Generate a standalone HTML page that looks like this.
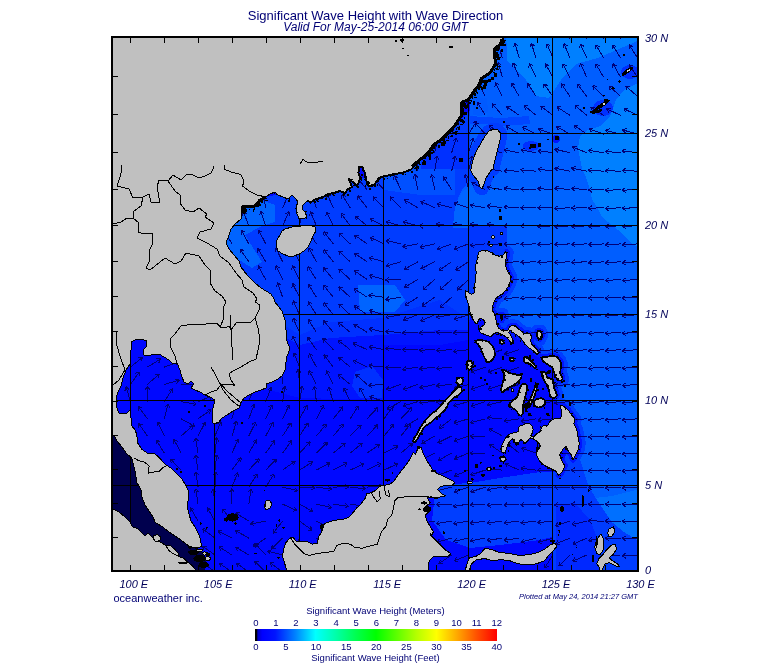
<!DOCTYPE html>
<html><head><meta charset="utf-8"><title>Significant Wave Height with Wave Direction</title>
<style>html,body{margin:0;padding:0;background:#fff}body{width:775px;height:665px;position:relative;overflow:hidden}</style></head>
<body>
<svg width="775" height="665" viewBox="0 0 775 665" style="position:absolute;left:0;top:0">
<defs><clipPath id="mc"><rect x="113" y="38" width="524" height="532"/></clipPath>
<clipPath id="east"><polygon points="470,36 640,36 640,572 560,572 552,540 552,480 560,470 572,440 568,410 553,398 548,385 556,375 548,362 535,355 520,340 500,328 488,320 492,300 500,270 505,250 500,228 453,228 455,205 462,190 470,180"/></clipPath>
<linearGradient id="cb" x1="0" x2="1" y1="0" y2="0">
<stop offset="0.0000" stop-color="#000000"/>
<stop offset="0.0060" stop-color="#000000"/>
<stop offset="0.0120" stop-color="#0000c8"/>
<stop offset="0.0300" stop-color="#0000ff"/>
<stop offset="0.0833" stop-color="#0014ff"/>
<stop offset="0.1667" stop-color="#0082ff"/>
<stop offset="0.2500" stop-color="#00ffff"/>
<stop offset="0.3333" stop-color="#00ffaa"/>
<stop offset="0.4167" stop-color="#00ff50"/>
<stop offset="0.5000" stop-color="#00ff00"/>
<stop offset="0.5833" stop-color="#5aff00"/>
<stop offset="0.6667" stop-color="#b4ff00"/>
<stop offset="0.7500" stop-color="#ffff00"/>
<stop offset="0.8333" stop-color="#ffaa00"/>
<stop offset="0.9167" stop-color="#ff5000"/>
<stop offset="1.0000" stop-color="#ff0000"/>
</linearGradient></defs>
<rect x="0" y="0" width="775" height="665" fill="#fff"/>
<g clip-path="url(#mc)" shape-rendering="crispEdges">
<rect x="113" y="38" width="524" height="532" fill="#0008ff"/>
<polygon points="262.0,388.0 300.0,398.0 383.0,400.0 383.0,345.0 440.0,345.0 468.0,340.0 470.0,316.0 440.0,300.0 383.0,318.0 330.0,322.0 300.0,335.0 272.0,318.0 282.0,345.0 285.0,365.0" fill="#0014ff" />
<polygon points="272.0,316.0 300.0,330.0 330.0,320.0 383.0,316.0 440.0,300.0 470.0,316.0 468.0,330.0 440.0,330.0 383.0,335.0 330.0,338.0 300.0,345.0 280.0,335.0" fill="#0030ff" />
<polygon points="355.0,372.0 372.0,366.0 383.0,380.0 382.0,398.0 360.0,398.0 352.0,386.0" fill="#0030ff" />
<polygon points="226.0,243.0 232.0,228.0 243.0,206.0 260.0,198.0 300.0,190.0 350.0,180.0 400.0,172.0 421.0,160.0 440.0,140.0 470.0,110.0 505.0,38.0 470.0,320.0 440.0,300.0 383.0,318.0 330.0,322.0 300.0,335.0 272.0,318.0 255.0,285.0 235.0,257.0" fill="#003cff" />
<polygon points="470.0,36.0 640.0,36.0 640.0,572.0 560.0,572.0 552.0,540.0 552.0,480.0 560.0,470.0 572.0,440.0 568.0,410.0 553.0,398.0 548.0,385.0 556.0,375.0 548.0,362.0 535.0,355.0 520.0,340.0 500.0,328.0 488.0,320.0 492.0,300.0 500.0,270.0 505.0,250.0 500.0,228.0 453.0,228.0 455.0,205.0 462.0,190.0 470.0,180.0" fill="#005eff" />
<polygon points="436.0,485.0 470.0,483.0 500.0,478.0 540.0,472.0 560.0,472.0 560.0,535.0 540.0,540.0 500.0,545.0 470.0,548.0 446.0,540.0 432.0,520.0" fill="#003eff" />
<polygon points="473.0,100.0 487.0,100.0 487.0,118.0 473.0,118.0" fill="#0064ff" />
<polygon points="226.0,243.0 232.0,228.0 243.0,206.0 262.0,200.0 275.0,205.0 275.0,222.0 262.0,226.0 245.0,235.0 262.0,262.0 252.0,268.0 236.0,258.0" fill="#0064ff" />
<polygon points="358.0,285.0 395.0,285.0 405.0,300.0 395.0,312.0 360.0,312.0" fill="#0064ff" />
<polygon points="384.0,177.0 421.0,160.0 440.0,140.0 455.0,150.0 455.0,195.0 421.0,195.0 384.0,190.0" fill="#0050ff" />
<polygon points="469.0,226.0 507.0,226.0 507.4,253.0 504.0,257.0 481.0,251.0 477.0,257.0 475.0,273.0 473.4,289.0 469.0,293.0" fill="#0036ff" />
<polygon points="473.0,98.0 487.0,98.0 488.0,112.0 481.0,116.0 473.4,115.0" fill="#005aff" />
<polygon points="469.0,116.0 501.0,118.0 529.0,116.0 530.0,124.0 501.0,126.0 485.0,124.0 469.0,124.0" fill="#0046ff" />
<polygon points="421.0,159.0 433.0,148.0 449.0,134.0 469.0,134.0 469.0,169.0 421.0,169.0" fill="#0030ff" />
<polygon points="453.0,226.0 455.0,207.0 462.0,192.0 470.0,186.0 640.0,190.0 640.0,226.0" fill="#0064ff" />
<polygon points="506.0,36.0 507.0,50.0 507.0,60.0 516.0,70.0 526.0,80.0 536.0,96.0 549.0,98.0 561.0,80.0 576.0,64.0 598.0,58.0 626.0,46.0 640.0,40.0 640.0,36.0" fill="#0080ff" />
<polygon points="640.0,82.0 624.0,90.0 616.0,100.0 610.0,116.0 600.0,126.0 588.0,130.0 580.0,136.0 578.0,148.0 582.0,169.0 585.0,175.0 590.0,189.0 592.0,199.0 598.0,209.0 602.0,217.0 614.0,227.0 622.0,233.0 629.0,241.0 640.0,249.0" fill="#0080ff" />
<polygon points="640.0,489.0 612.0,496.0 595.0,498.0 599.0,503.0 611.2,521.5 623.6,531.8 640.0,542.0" fill="#0070ff" />
<polygon points="552.0,475.0 572.0,462.0 578.0,453.0 588.6,486.5 598.9,503.0 611.2,521.5 623.6,531.8 640.0,542.0 640.0,572.0 552.0,572.0" fill="#003cff" />
<polygon points="556.0,505.0 575.0,503.0 590.0,520.0 600.0,545.0 600.0,572.0 556.0,572.0" fill="#0028ff" />
<polygon points="105.0,430.0 125.4,435.0 133.7,451.5 146.0,461.8 159.4,480.3 164.6,496.8 172.8,519.5 185.2,538.0 195.5,547.3 203.0,552.0 206.0,560.0 204.0,575.0 105.0,575.0" fill="#00004e" />
<ellipse cx="630" cy="72" rx="9" ry="7" fill="#0030ff"/>
<ellipse cx="603" cy="108" rx="10" ry="8" fill="#0030ff"/>
<ellipse cx="531" cy="146" rx="8" ry="5" fill="#0030ff"/>
<ellipse cx="556" cy="139" rx="4" ry="4" fill="#0018ff"/>
<g clip-path="url(#east)" fill="none" stroke-linejoin="round">
<polygon points="478.3,252.5 482.0,250.6 487.0,250.6 490.8,252.5 495.2,255.0 499.5,256.3 503.3,255.0 505.2,251.9 507.1,252.5 506.4,257.5 505.2,262.5 506.4,268.8 508.9,273.2 510.8,276.9 510.2,281.3 508.3,286.3 505.8,290.1 503.3,293.2 499.5,295.7 495.8,298.2 493.9,302.6 492.7,306.3 492.0,310.1 494.5,313.8 495.8,318.2 496.4,323.2 498.3,327.6 499.5,328.8 503.3,331.3 505.8,330.6 508.3,330.0 509.6,326.9 512.1,325.6 515.8,326.3 518.3,328.8 521.5,331.3 524.0,333.8 526.5,333.1 529.6,333.8 532.1,336.9 530.2,340.0 531.5,343.8 534.0,346.9 537.1,349.4 538.3,353.2 537.1,355.0 534.6,351.9 531.5,349.4 528.3,347.5 525.2,344.4 522.7,340.6 519.6,336.9 515.8,334.4 512.1,331.9 510.2,330.0 508.9,332.5 510.8,335.6 512.7,339.4 513.3,343.1 511.4,343.8 509.6,340.6 506.4,337.5 503.3,335.0 499.5,333.1 496.4,332.5 493.9,333.8 490.8,336.3 487.0,335.6 483.3,333.8 480.1,332.5 478.3,328.8 478.9,325.0 478.9,330.1 480.8,327.0 483.9,325.1 485.2,322.0 483.3,319.5 480.1,318.2 478.3,320.1 477.6,323.8 475.8,323.8 473.3,319.5 470.8,315.1 469.5,310.1 468.9,305.1 467.0,300.1 465.8,295.7 465.1,290.7 467.6,291.9 471.4,294.4 474.5,292.6 473.9,287.5 475.1,282.5 475.1,277.5 476.4,272.5 475.1,267.5 476.4,262.5 477.6,257.5" stroke="#003cff" stroke-width="13"/>
<polygon points="537.5,331.3 540.7,331.3 541.9,335.0 540.1,338.8 537.5,338.1 536.9,334.4" stroke="#003cff" stroke-width="13"/>
<polygon points="541.3,357.5 546.3,356.9 552.6,355.7 556.9,356.9 559.5,360.0 561.3,363.8 560.7,368.8 560.1,373.2 562.0,376.9 562.6,379.4 560.1,380.7 556.9,379.4 555.1,375.7 553.8,371.3 552.6,367.5 549.4,365.7 545.7,363.2 542.6,360.7" stroke="#003cff" stroke-width="13"/>
<polygon points="541.9,373.2 544.4,371.9 546.3,374.4 546.9,377.6 550.1,378.8 552.6,378.2 553.2,382.6 553.8,387.6 555.7,391.3 556.9,395.1 555.1,397.6 552.6,398.2 550.1,396.3 549.4,392.0 548.2,386.9 545.7,383.2 543.8,379.4 541.9,376.3" stroke="#003cff" stroke-width="13"/>
<polygon points="501.9,451.9 500.7,448.8 501.9,445.1 503.8,441.3 505.7,437.6 508.2,435.1 511.9,433.2 515.7,432.5 518.8,431.3 518.2,428.2 520.1,425.7 523.2,425.0 525.7,423.8 529.4,423.8 531.9,425.7 533.2,429.4 532.6,432.5 530.7,435.7 533.8,436.9 536.9,433.8 540.7,431.3 541.3,427.5 543.8,425.0 547.6,425.7 549.5,421.9 552.6,419.4 556.3,418.2 560.1,418.8 562.0,415.0 561.4,410.6 560.1,406.3 562.0,405.0 565.1,407.5 568.2,410.0 570.7,413.8 573.2,416.9 575.1,420.0 573.9,423.8 575.7,427.5 577.0,431.3 579.3,443.2 578.3,449.4 575.2,455.6 573.1,459.7 571.1,454.6 568.0,450.5 565.9,446.3 562.8,449.4 559.7,454.6 561.8,460.8 564.9,465.9 561.8,472.1 558.7,475.2 555.6,471.1 551.5,469.0 545.3,465.9 540.2,461.8 537.1,456.6 536.1,450.5 538.1,443.2 536.3,453.8 538.2,449.4 540.7,446.3 538.8,443.2 536.3,440.7 533.2,438.8 530.1,437.6 528.2,440.1 525.7,443.2 523.2,441.3 520.7,439.4 518.2,443.2 516.3,445.1 514.4,441.3 512.5,438.8 510.0,440.7 508.2,443.8 506.9,447.6 505.7,451.3 503.8,453.2" stroke="#003cff" stroke-width="13"/>
<polygon points="500.5,314.5 502.3,314.5 502.8,317.6 501.8,320.1 500.5,318.2" stroke="#003cff" stroke-width="13"/>
<polygon points="494.0,129.0 498.0,130.0 501.0,134.0 500.0,140.0 498.0,148.0 496.0,156.0 494.0,164.0 493.0,169.0 492.0,169.0 490.0,172.0 486.0,178.0 484.0,184.0 482.0,189.0 480.0,187.0 478.0,181.0 473.0,175.0 470.0,169.0 471.0,169.0 473.4,158.0 477.0,150.0 481.0,143.0 485.0,136.0 489.0,131.0" stroke="#003cff" stroke-width="13"/>
<polygon points="478.3,252.5 482.0,250.6 487.0,250.6 490.8,252.5 495.2,255.0 499.5,256.3 503.3,255.0 505.2,251.9 507.1,252.5 506.4,257.5 505.2,262.5 506.4,268.8 508.9,273.2 510.8,276.9 510.2,281.3 508.3,286.3 505.8,290.1 503.3,293.2 499.5,295.7 495.8,298.2 493.9,302.6 492.7,306.3 492.0,310.1 494.5,313.8 495.8,318.2 496.4,323.2 498.3,327.6 499.5,328.8 503.3,331.3 505.8,330.6 508.3,330.0 509.6,326.9 512.1,325.6 515.8,326.3 518.3,328.8 521.5,331.3 524.0,333.8 526.5,333.1 529.6,333.8 532.1,336.9 530.2,340.0 531.5,343.8 534.0,346.9 537.1,349.4 538.3,353.2 537.1,355.0 534.6,351.9 531.5,349.4 528.3,347.5 525.2,344.4 522.7,340.6 519.6,336.9 515.8,334.4 512.1,331.9 510.2,330.0 508.9,332.5 510.8,335.6 512.7,339.4 513.3,343.1 511.4,343.8 509.6,340.6 506.4,337.5 503.3,335.0 499.5,333.1 496.4,332.5 493.9,333.8 490.8,336.3 487.0,335.6 483.3,333.8 480.1,332.5 478.3,328.8 478.9,325.0 478.9,330.1 480.8,327.0 483.9,325.1 485.2,322.0 483.3,319.5 480.1,318.2 478.3,320.1 477.6,323.8 475.8,323.8 473.3,319.5 470.8,315.1 469.5,310.1 468.9,305.1 467.0,300.1 465.8,295.7 465.1,290.7 467.6,291.9 471.4,294.4 474.5,292.6 473.9,287.5 475.1,282.5 475.1,277.5 476.4,272.5 475.1,267.5 476.4,262.5 477.6,257.5" stroke="#0014ff" stroke-width="6"/>
<polygon points="537.5,331.3 540.7,331.3 541.9,335.0 540.1,338.8 537.5,338.1 536.9,334.4" stroke="#0014ff" stroke-width="6"/>
<polygon points="541.3,357.5 546.3,356.9 552.6,355.7 556.9,356.9 559.5,360.0 561.3,363.8 560.7,368.8 560.1,373.2 562.0,376.9 562.6,379.4 560.1,380.7 556.9,379.4 555.1,375.7 553.8,371.3 552.6,367.5 549.4,365.7 545.7,363.2 542.6,360.7" stroke="#0014ff" stroke-width="6"/>
<polygon points="541.9,373.2 544.4,371.9 546.3,374.4 546.9,377.6 550.1,378.8 552.6,378.2 553.2,382.6 553.8,387.6 555.7,391.3 556.9,395.1 555.1,397.6 552.6,398.2 550.1,396.3 549.4,392.0 548.2,386.9 545.7,383.2 543.8,379.4 541.9,376.3" stroke="#0014ff" stroke-width="6"/>
<polygon points="501.9,451.9 500.7,448.8 501.9,445.1 503.8,441.3 505.7,437.6 508.2,435.1 511.9,433.2 515.7,432.5 518.8,431.3 518.2,428.2 520.1,425.7 523.2,425.0 525.7,423.8 529.4,423.8 531.9,425.7 533.2,429.4 532.6,432.5 530.7,435.7 533.8,436.9 536.9,433.8 540.7,431.3 541.3,427.5 543.8,425.0 547.6,425.7 549.5,421.9 552.6,419.4 556.3,418.2 560.1,418.8 562.0,415.0 561.4,410.6 560.1,406.3 562.0,405.0 565.1,407.5 568.2,410.0 570.7,413.8 573.2,416.9 575.1,420.0 573.9,423.8 575.7,427.5 577.0,431.3 579.3,443.2 578.3,449.4 575.2,455.6 573.1,459.7 571.1,454.6 568.0,450.5 565.9,446.3 562.8,449.4 559.7,454.6 561.8,460.8 564.9,465.9 561.8,472.1 558.7,475.2 555.6,471.1 551.5,469.0 545.3,465.9 540.2,461.8 537.1,456.6 536.1,450.5 538.1,443.2 536.3,453.8 538.2,449.4 540.7,446.3 538.8,443.2 536.3,440.7 533.2,438.8 530.1,437.6 528.2,440.1 525.7,443.2 523.2,441.3 520.7,439.4 518.2,443.2 516.3,445.1 514.4,441.3 512.5,438.8 510.0,440.7 508.2,443.8 506.9,447.6 505.7,451.3 503.8,453.2" stroke="#0014ff" stroke-width="6"/>
<polygon points="500.5,314.5 502.3,314.5 502.8,317.6 501.8,320.1 500.5,318.2" stroke="#0014ff" stroke-width="6"/>
</g>
</g>
<g clip-path="url(#mc)" stroke="#000078" stroke-width="1" fill="none" stroke-linecap="butt" shape-rendering="crispEdges">
<path d="M130.5 401.6L126.1 386.8M126.1 386.8L129.4 389.6M126.1 386.8L124.9 390.9M130.5 384.4L139.4 371.7M139.4 371.7L139.2 376.0M139.4 371.7L135.4 373.3M130.5 367.1L142.5 357.3M142.5 357.3L141.2 361.4M142.5 357.3L138.2 357.7M147.4 436.0L138.5 423.3M138.5 423.3L142.5 424.9M138.5 423.3L138.7 427.6M147.4 418.8L138.2 406.3M138.2 406.3L142.3 407.8M138.2 406.3L138.5 410.6M147.4 401.6L147.6 386.1M147.6 386.1L149.9 389.8M147.6 386.1L145.2 389.7M147.4 384.4L159.1 374.3M159.1 374.3L157.9 378.4M159.1 374.3L154.9 374.8M147.4 367.1L160.6 359.0M160.6 359.0L158.8 362.9M160.6 359.0L156.3 358.9M164.3 453.1L156.1 439.9M156.1 439.9L160.0 441.7M156.1 439.9L156.0 444.2M164.3 436.0L157.7 421.9M157.7 421.9L161.4 424.2M157.7 421.9L157.1 426.2M164.3 418.8L168.2 403.8M168.2 403.8L169.5 407.9M168.2 403.8L165.0 406.7M164.3 401.6L172.7 388.6M172.7 388.6L172.7 392.9M172.7 388.6L168.8 390.4M164.3 384.4L179.2 380.2M179.2 380.2L176.4 383.5M179.2 380.2L175.1 379.0M164.3 367.1L178.8 361.7M178.8 361.7L176.3 365.2M178.8 361.7L174.6 360.8M181.2 470.1L170.4 459.0M170.4 459.0L174.6 460.0M170.4 459.0L171.2 463.2M181.2 453.1L173.8 439.4M173.8 439.4L177.6 441.5M173.8 439.4L173.5 443.7M181.2 436.0L192.8 425.7M192.8 425.7L191.7 429.9M192.8 425.7L188.6 426.3M181.2 418.8L194.7 426.4M194.7 426.4L190.4 426.7M194.7 426.4L192.7 422.6M181.2 401.6L196.4 404.4M196.4 404.4L192.5 406.1M196.4 404.4L193.3 401.5M181.2 384.4L196.7 384.1M196.7 384.1L193.1 386.5M196.7 384.1L193.0 381.8M198.1 521.1L190.4 507.6M190.4 507.6L194.3 509.6M190.4 507.6L190.2 511.9M198.1 504.1L195.7 488.8M195.7 488.8L198.6 492.0M195.7 488.8L194.0 492.7M198.1 487.1L195.8 471.8M195.8 471.8L198.7 475.0M195.8 471.8L194.1 475.7M198.1 470.1L195.4 454.8M195.4 454.8L198.3 458.0M195.4 454.8L193.7 458.8M198.1 453.1L195.4 437.8M195.4 437.8L198.3 440.9M195.4 437.8L193.7 441.7M198.1 436.0L205.2 422.2M205.2 422.2L205.6 426.5M205.2 422.2L201.5 424.3M198.1 418.8L210.8 409.9M210.8 409.9L209.2 413.9M210.8 409.9L206.5 410.1M198.1 401.6L212.5 395.8M212.5 395.8L210.0 399.4M212.5 395.8L208.3 395.0M215.0 572.0L202.7 562.5M202.7 562.5L207.0 562.9M202.7 562.5L204.2 566.6M215.0 555.0L202.3 546.1M202.3 546.1L206.6 546.3M202.3 546.1L203.9 550.1M215.0 538.1L202.6 528.9M202.6 528.9L206.8 529.1M202.6 528.9L204.1 532.9M215.0 521.1L207.2 507.8M207.2 507.8L211.0 509.7M207.2 507.8L207.0 512.0M215.0 504.1L213.2 488.8M213.2 488.8L215.9 492.1M213.2 488.8L211.3 492.6M215.0 487.1L215.5 471.6M215.5 471.6L217.7 475.3M215.5 471.6L213.0 475.2M215.0 470.1L216.7 454.7M216.7 454.7L218.6 458.5M216.7 454.7L214.0 458.0M215.0 453.1L216.7 437.6M216.7 437.6L218.6 441.5M216.7 437.6L214.0 441.0M215.0 436.0L220.9 421.6M220.9 421.6L221.7 425.8M220.9 421.6L217.3 424.1M231.9 572.0L219.2 563.1M219.2 563.1L223.5 563.2M219.2 563.1L220.8 567.1M231.9 555.0L218.9 546.6M218.9 546.6L223.2 546.6M218.9 546.6L220.7 550.5M231.9 538.1L218.1 530.9M218.1 530.9L222.4 530.5M218.1 530.9L220.3 534.7M231.9 521.1L222.4 508.9M222.4 508.9L226.5 510.3M222.4 508.9L222.8 513.2M231.9 504.1L231.8 488.6M231.8 488.6L234.2 492.2M231.8 488.6L229.5 492.3M231.9 487.1L237.8 472.8M237.8 472.8L238.6 477.0M237.8 472.8L234.3 475.3M231.9 470.1L241.2 457.7M241.2 457.7L240.9 462.0M241.2 457.7L237.1 459.2M231.9 453.1L238.5 439.0M238.5 439.0L239.1 443.3M238.5 439.0L234.8 441.3M231.9 436.0L236.7 421.2M236.7 421.2L237.8 425.4M236.7 421.2L233.3 423.9M231.9 418.8L236.0 403.9M236.0 403.9L237.3 408.0M236.0 403.9L232.8 406.7M231.9 243.9L224.3 230.4M224.3 230.4L228.1 232.4M224.3 230.4L224.0 234.7M248.8 572.0L236.2 563.0M236.2 563.0L240.5 563.2M236.2 563.0L237.8 567.0M248.8 555.0L235.5 547.1M235.5 547.1L239.8 547.0M235.5 547.1L237.4 551.0M248.8 538.1L235.3 530.4M235.3 530.4L239.6 530.2M235.3 530.4L237.3 534.2M248.8 521.1L235.6 512.9M235.6 512.9L239.9 512.9M235.6 512.9L237.5 516.8M248.8 504.1L251.2 488.8M251.2 488.8L252.9 492.7M251.2 488.8L248.3 492.0M248.8 487.1L257.1 474.1M257.1 474.1L257.2 478.4M257.1 474.1L253.2 475.9M248.8 470.1L259.4 458.8M259.4 458.8L258.6 463.0M259.4 458.8L255.2 459.8M248.8 453.1L256.7 439.7M256.7 439.7L256.9 444.0M256.7 439.7L252.9 441.6M248.8 436.0L255.8 422.1M255.8 422.1L256.3 426.4M255.8 422.1L252.1 424.3M248.8 418.8L254.3 404.3M254.3 404.3L255.2 408.5M254.3 404.3L250.8 406.9M248.8 401.6L254.1 387.1M254.1 387.1L255.1 391.3M254.1 387.1L250.7 389.7M248.8 261.8L240.0 249.0M240.0 249.0L244.0 250.6M240.0 249.0L240.1 253.3M248.8 243.9L241.5 230.2M241.5 230.2L245.2 232.3M241.5 230.2L241.1 234.5M248.8 225.9L243.3 211.4M243.3 211.4L246.8 213.9M243.3 211.4L242.4 215.6M248.8 207.8L245.7 192.6M245.7 192.6L248.7 195.7M245.7 192.6L244.1 196.6M265.7 572.0L254.6 561.2M254.6 561.2L258.8 562.0M254.6 561.2L255.5 565.4M265.7 555.0L255.2 543.6M255.2 543.6L259.4 544.7M255.2 543.6L255.9 547.9M265.7 538.1L253.0 547.0M253.0 547.0L254.6 543.0M253.0 547.0L257.3 546.9M265.7 521.1L250.5 524.0M250.5 524.0L253.6 521.0M250.5 524.0L254.4 525.6M265.7 487.1L274.0 474.1M274.0 474.1L274.1 478.4M274.0 474.1L270.1 475.8M265.7 470.1L276.5 459.0M276.5 459.0L275.7 463.2M276.5 459.0L272.3 459.9M265.7 453.1L274.6 440.4M274.6 440.4L274.5 444.7M274.6 440.4L270.7 442.0M265.7 436.0L273.0 422.3M273.0 422.3L273.3 426.6M273.0 422.3L269.2 424.4M265.7 418.8L272.2 404.8M272.2 404.8L272.8 409.0M272.2 404.8L268.6 407.0M265.7 401.6L271.3 387.2M271.3 387.2L272.1 391.4M271.3 387.2L267.8 389.7M265.7 279.5L258.2 265.9M258.2 265.9L262.0 268.0M258.2 265.9L257.9 270.2M265.7 261.8L257.8 248.4M257.8 248.4L261.6 250.3M257.8 248.4L257.6 252.7M265.7 243.9L258.7 230.1M258.7 230.1L262.4 232.2M258.7 230.1L258.2 234.3M265.7 225.9L260.8 211.2M260.8 211.2L264.1 213.9M260.8 211.2L259.7 215.4M265.7 207.8L263.2 192.5M263.2 192.5L266.1 195.7M263.2 192.5L261.4 196.5M282.6 572.0L270.2 562.8M270.2 562.8L274.4 563.0M270.2 562.8L271.7 566.8M282.6 555.0L267.6 551.1M267.6 551.1L271.7 549.7M267.6 551.1L270.5 554.3M282.6 538.1L271.5 548.9M271.5 548.9L272.4 544.7M271.5 548.9L275.7 548.0M282.6 521.1L273.0 533.3M273.0 533.3L273.4 529.0M273.0 533.3L277.1 531.9M282.6 504.1L296.7 510.5M296.7 510.5L292.5 511.2M296.7 510.5L294.4 506.9M282.6 487.1L297.7 490.7M297.7 490.7L293.6 492.1M297.7 490.7L294.7 487.6M282.6 470.1L295.2 461.1M295.2 461.1L293.6 465.1M295.2 461.1L290.9 461.3M282.6 453.1L291.7 440.5M291.7 440.5L291.5 444.8M291.7 440.5L287.7 442.1M282.6 436.0L291.0 422.9M291.0 422.9L291.0 427.2M291.0 422.9L287.1 424.7M282.6 418.8L289.3 404.8M289.3 404.8L289.8 409.1M289.3 404.8L285.6 407.1M282.6 401.6L284.9 386.3M284.9 386.3L286.7 390.2M284.9 386.3L282.1 389.5M282.6 384.4L281.3 368.9M281.3 368.9L284.0 372.3M281.3 368.9L279.3 372.7M282.6 297.2L277.6 282.5M277.6 282.5L281.0 285.2M277.6 282.5L276.5 286.7M282.6 279.5L275.7 265.6M275.7 265.6L279.4 267.8M275.7 265.6L275.2 269.9M282.6 261.8L275.8 247.8M275.8 247.8L279.5 250.0M275.8 247.8L275.3 252.1M282.6 225.9L288.9 211.7M288.9 211.7L289.6 216.0M288.9 211.7L285.3 214.1M282.6 207.8L289.1 193.7M289.1 193.7L289.7 198.0M289.1 193.7L285.5 196.0M299.5 538.1L294.6 552.8M294.6 552.8L293.5 548.6M294.6 552.8L298.0 550.1M299.5 521.1L312.1 530.2M312.1 530.2L307.8 530.0M312.1 530.2L310.5 526.2M299.5 504.1L313.1 511.6M313.1 511.6L308.8 511.9M313.1 511.6L311.0 507.8M299.5 487.1L315.0 487.7M315.0 487.7L311.3 489.9M315.0 487.7L311.5 485.2M299.5 470.1L312.6 461.8M312.6 461.8L310.8 465.7M312.6 461.8L308.3 461.7M299.5 453.1L310.2 441.8M310.2 441.8L309.4 446.0M310.2 441.8L306.0 442.8M299.5 436.0L308.0 423.0M308.0 423.0L308.0 427.3M308.0 423.0L304.0 424.7M299.5 418.8L307.1 405.3M307.1 405.3L307.4 409.6M307.1 405.3L303.3 407.3M299.5 401.6L302.2 386.4M302.2 386.4L303.9 390.3M302.2 386.4L299.2 389.5M299.5 384.4L298.4 368.9M298.4 368.9L301.0 372.4M298.4 368.9L296.3 372.7M299.5 367.1L293.8 352.7M293.8 352.7L297.3 355.2M293.8 352.7L293.0 356.9M299.5 349.7L292.3 336.0M292.3 336.0L296.1 338.1M292.3 336.0L291.9 340.3M299.5 332.3L293.1 318.2M293.1 318.2L296.7 320.5M293.1 318.2L292.5 322.4M299.5 314.8L293.2 300.6M293.2 300.6L296.8 303.0M293.2 300.6L292.5 304.9M299.5 297.2L292.4 283.4M292.4 283.4L296.1 285.6M292.4 283.4L291.9 287.7M299.5 279.5L292.2 265.8M292.2 265.8L296.0 267.9M292.2 265.8L291.8 270.1M299.5 261.8L292.2 248.1M292.2 248.1L296.0 250.2M292.2 248.1L291.8 252.4M299.5 225.9L301.8 210.6M301.8 210.6L303.5 214.5M301.8 210.6L298.9 213.8M316.4 538.1L327.8 548.6M327.8 548.6L323.5 547.9M327.8 548.6L326.7 544.5M316.4 521.1L330.2 528.1M330.2 528.1L325.9 528.6M330.2 528.1L328.1 524.4M316.4 504.1L331.5 507.6M331.5 507.6L327.5 509.1M331.5 507.6L328.5 504.5M316.4 487.1L331.8 489.2M331.8 489.2L327.9 491.1M331.8 489.2L328.5 486.4M316.4 470.1L330.0 462.7M330.0 462.7L328.0 466.5M330.0 462.7L325.7 462.4M316.4 453.1L327.5 442.2M327.5 442.2L326.6 446.4M327.5 442.2L323.3 443.1M316.4 436.0L326.4 424.1M326.4 424.1L325.9 428.4M326.4 424.1L322.3 425.4M316.4 418.8L323.8 405.2M323.8 405.2L324.1 409.5M323.8 405.2L320.0 407.2M316.4 401.6L314.5 386.3M314.5 386.3L317.3 389.5M314.5 386.3L312.6 390.1M316.4 384.4L309.0 370.8M309.0 370.8L312.8 372.8M309.0 370.8L308.7 375.1M316.4 367.1L309.2 353.4M309.2 353.4L312.9 355.5M309.2 353.4L308.8 357.7M316.4 349.7L307.3 337.2M307.3 337.2L311.4 338.7M307.3 337.2L307.6 341.4M316.4 332.3L308.1 319.2M308.1 319.2L312.0 321.0M308.1 319.2L308.1 323.5M316.4 314.8L308.1 301.7M308.1 301.7L312.0 303.5M308.1 301.7L308.0 306.0M316.4 297.2L308.2 284.1M308.2 284.1L312.1 285.9M308.2 284.1L308.1 288.4M316.4 279.5L307.9 266.6M307.9 266.6L311.8 268.3M307.9 266.6L307.9 270.9M316.4 261.8L309.0 248.1M309.0 248.1L312.8 250.2M309.0 248.1L308.6 252.4M316.4 243.9L308.1 230.8M308.1 230.8L312.0 232.6M308.1 230.8L308.0 235.1M316.4 225.9L310.4 211.6M310.4 211.6L313.9 214.0M310.4 211.6L309.6 215.8M316.4 207.8L310.6 193.4M310.6 193.4L314.2 195.9M310.6 193.4L309.8 197.6M333.3 504.1L348.6 506.4M348.6 506.4L344.7 508.2M348.6 506.4L345.4 503.6M333.3 487.1L348.8 486.7M348.8 486.7L345.3 489.1M348.8 486.7L345.1 484.4M333.3 470.1L347.0 462.9M347.0 462.9L344.9 466.7M347.0 462.9L342.8 462.5M333.3 453.1L345.2 443.1M345.2 443.1L343.9 447.2M345.2 443.1L340.9 443.6M333.3 436.0L343.4 424.2M343.4 424.2L342.8 428.5M343.4 424.2L339.3 425.4M333.3 418.8L343.0 406.7M343.0 406.7L342.6 411.0M343.0 406.7L338.9 408.1M333.3 401.6L328.6 386.9M328.6 386.9L331.9 389.6M328.6 386.9L327.5 391.0M333.3 384.4L326.4 370.5M326.4 370.5L330.1 372.7M326.4 370.5L325.9 374.8M333.3 367.1L323.9 354.8M323.9 354.8L328.0 356.2M323.9 354.8L324.2 359.0M333.3 349.7L322.8 338.3M322.8 338.3L327.0 339.4M322.8 338.3L323.5 342.6M333.3 332.3L323.4 320.4M323.4 320.4L327.5 321.7M323.4 320.4L323.9 324.7M333.3 314.8L323.7 302.6M323.7 302.6L327.8 304.0M323.7 302.6L324.1 306.9M333.3 297.2L323.5 285.2M323.5 285.2L327.6 286.5M323.5 285.2L324.0 289.5M333.3 279.5L323.3 267.6M323.3 267.6L327.5 268.9M323.3 267.6L323.9 271.9M333.3 261.8L323.7 249.6M323.7 249.6L327.7 251.0M323.7 249.6L324.1 253.9M333.3 243.9L323.8 231.6M323.8 231.6L327.8 233.1M323.8 231.6L324.1 235.9M333.3 225.9L326.4 212.0M326.4 212.0L330.1 214.2M326.4 212.0L325.9 216.3M333.3 207.8L326.9 193.7M326.9 193.7L330.5 196.0M326.9 193.7L326.2 198.0M350.2 504.1L365.5 506.7M365.5 506.7L361.5 508.4M365.5 506.7L362.3 503.8M350.2 487.1L365.6 488.8M365.6 488.8L361.8 490.7M365.6 488.8L362.3 486.1M350.2 470.1L364.2 463.5M364.2 463.5L361.9 467.1M364.2 463.5L359.9 462.9M350.2 453.1L362.2 443.2M362.2 443.2L360.9 447.3M362.2 443.2L357.9 443.7M350.2 436.0L361.2 425.0M361.2 425.0L360.3 429.2M361.2 425.0L357.0 425.9M350.2 418.8L358.5 405.7M358.5 405.7L358.5 410.0M358.5 405.7L354.6 407.5M350.2 401.6L343.7 387.6M343.7 387.6L347.3 389.9M343.7 387.6L343.1 391.8M350.2 384.4L338.2 374.6M338.2 374.6L342.5 375.1M338.2 374.6L339.5 378.7M350.2 367.1L338.3 357.1M338.3 357.1L342.6 357.7M338.3 357.1L339.6 361.3M350.2 349.7L338.0 340.2M338.0 340.2L342.3 340.6M338.0 340.2L339.4 344.2M350.2 332.3L338.3 322.4M338.3 322.4L342.5 322.9M338.3 322.4L339.6 326.5M350.2 314.8L338.8 304.2M338.8 304.2L343.1 305.0M338.8 304.2L339.9 308.4M350.2 297.2L338.7 286.8M338.7 286.8L342.9 287.5M338.7 286.8L339.8 291.0M350.2 279.5L338.7 269.1M338.7 269.1L343.0 269.8M338.7 269.1L339.8 273.3M350.2 261.8L338.8 251.2M338.8 251.2L343.1 251.9M338.8 251.2L339.9 255.4M350.2 243.9L339.1 233.1M339.1 233.1L343.3 233.9M339.1 233.1L340.0 237.3M350.2 225.9L341.0 213.4M341.0 213.4L345.1 214.9M341.0 213.4L341.3 217.7M350.2 207.8L342.0 194.7M342.0 194.7L345.9 196.5M342.0 194.7L341.9 199.0M350.2 189.6L341.8 176.5M341.8 176.5L345.8 178.3M341.8 176.5L341.8 180.8M367.1 487.1L382.5 485.8M382.5 485.8L379.2 488.4M382.5 485.8L378.7 483.8M367.1 470.1L381.0 463.2M381.0 463.2L378.8 466.9M381.0 463.2L376.7 462.7M367.1 453.1L379.8 444.2M379.8 444.2L378.2 448.2M379.8 444.2L375.5 444.3M367.1 436.0L377.8 424.7M377.8 424.7L377.0 428.9M377.8 424.7L373.6 425.7M367.1 418.8L377.7 407.5M377.7 407.5L377.0 411.8M377.7 407.5L373.6 408.6M367.1 401.6L359.8 388.0M359.8 388.0L363.5 390.0M359.8 388.0L359.4 392.3M367.1 384.4L355.5 374.1M355.5 374.1L359.7 374.8M355.5 374.1L356.6 378.3M367.1 367.1L353.2 360.3M353.2 360.3L357.4 359.8M353.2 360.3L355.4 364.0M367.1 349.7L353.1 343.0M353.1 343.0L357.4 342.5M353.1 343.0L355.4 346.7M367.1 332.3L353.9 324.2M353.9 324.2L358.2 324.1M353.9 324.2L355.7 328.1M367.1 314.8L354.4 305.9M354.4 305.9L358.7 306.1M354.4 305.9L356.0 309.9M367.1 297.2L354.1 288.7M354.1 288.7L358.4 288.7M354.1 288.7L355.9 292.6M367.1 279.5L354.4 270.7M354.4 270.7L358.7 270.8M354.4 270.7L356.0 274.7M367.1 261.8L354.3 253.1M354.3 253.1L358.6 253.2M354.3 253.1L355.9 257.0M367.1 243.9L354.4 235.0M354.4 235.0L358.7 235.1M354.4 235.0L356.0 239.0M367.1 225.9L355.1 216.0M355.1 216.0L359.4 216.5M355.1 216.0L356.4 220.1M367.1 207.8L357.5 195.6M357.5 195.6L361.6 197.0M357.5 195.6L357.9 199.9M367.1 189.6L357.0 177.8M357.0 177.8L361.2 179.0M357.0 177.8L357.6 182.1M384.0 470.1L398.0 463.5M398.0 463.5L395.8 467.2M398.0 463.5L393.8 462.9M384.0 453.1L397.8 446.0M397.8 446.0L395.7 449.8M397.8 446.0L393.5 445.6M384.0 436.0L394.0 424.1M394.0 424.1L393.5 428.4M394.0 424.1L389.9 425.4M384.0 418.8L393.1 406.3M393.1 406.3L392.9 410.6M393.1 406.3L389.1 407.8M384.0 401.6L369.4 396.5M369.4 396.5L373.6 395.5M369.4 396.5L372.0 399.9M384.0 384.4L368.5 385.5M368.5 385.5L372.0 382.9M368.5 385.5L372.3 387.6M384.0 367.1L368.6 365.5M368.6 365.5L372.4 363.6M368.6 365.5L371.9 368.2M384.0 349.7L368.8 346.5M368.8 346.5L372.9 345.0M368.8 346.5L371.9 349.5M384.0 332.3L369.0 328.3M369.0 328.3L373.1 327.0M369.0 328.3L371.9 331.5M384.0 314.8L369.2 310.3M369.2 310.3L373.3 309.1M369.2 310.3L371.9 313.6M384.0 297.2L368.6 295.2M368.6 295.2L372.5 293.3M368.6 295.2L371.9 298.0M384.0 279.5L369.1 275.2M369.1 275.2L373.2 273.9M369.1 275.2L371.9 278.4M384.0 261.8L369.1 257.5M369.1 257.5L373.2 256.3M369.1 257.5L371.9 260.8M384.0 243.9L370.0 237.3M370.0 237.3L374.2 236.7M370.0 237.3L372.2 240.9M384.0 225.9L370.2 218.9M370.2 218.9L374.4 218.4M370.2 218.9L372.3 222.6M384.0 207.8L373.1 196.8M373.1 196.8L377.3 197.7M373.1 196.8L374.0 201.0M384.0 189.6L373.4 178.2M373.4 178.2L377.6 179.3M373.4 178.2L374.2 182.5M400.9 470.1L414.5 462.7M414.5 462.7L412.5 466.4M414.5 462.7L410.2 462.3M400.9 453.1L412.8 443.1M412.8 443.1L411.5 447.2M412.8 443.1L408.5 443.6M400.9 436.0L410.7 423.9M410.7 423.9L410.2 428.2M410.7 423.9L406.6 425.3M400.9 418.8L411.6 407.6M411.6 407.6L410.8 411.8M411.6 407.6L407.4 408.6M400.9 401.6L387.3 409.0M387.3 409.0L389.3 405.2M387.3 409.0L391.5 409.3M400.9 384.4L386.3 389.6M386.3 389.6L388.9 386.2M386.3 389.6L390.5 390.6M400.9 367.1L385.4 367.8M385.4 367.8L388.9 365.3M385.4 367.8L389.1 370.0M400.9 349.7L385.5 348.2M385.5 348.2L389.3 346.3M385.5 348.2L388.8 350.9M400.9 332.3L385.4 331.6M385.4 331.6L389.1 329.5M385.4 331.6L388.9 334.1M400.9 314.8L385.6 317.4M385.6 317.4L388.8 314.5M385.6 317.4L389.6 319.1M400.9 297.2L385.6 299.7M385.6 299.7L388.8 296.8M385.6 299.7L389.5 301.4M400.9 279.5L385.4 280.1M385.4 280.1L388.9 277.6M385.4 280.1L389.1 282.3M400.9 261.8L386.0 266.1M386.0 266.1L388.8 262.9M386.0 266.1L390.1 267.3M400.9 243.9L385.8 240.3M385.8 240.3L389.9 238.8M385.8 240.3L388.8 243.4M400.9 225.9L386.0 221.7M386.0 221.7L390.1 220.4M386.0 221.7L388.8 224.9M400.9 207.8L390.0 196.8M390.0 196.8L394.2 197.7M390.0 196.8L390.8 201.0M400.9 189.6L394.2 175.6M394.2 175.6L397.9 177.8M394.2 175.6L393.7 179.9M417.8 418.8L404.5 426.8M404.5 426.8L406.4 422.9M404.5 426.8L408.8 427.0M417.8 401.6L402.9 406.0M402.9 406.0L405.7 402.8M402.9 406.0L407.1 407.2M417.8 384.4L403.2 389.6M403.2 389.6L405.8 386.2M403.2 389.6L407.4 390.6M417.8 367.1L402.5 369.5M402.5 369.5L405.7 366.7M402.5 369.5L406.4 371.3M417.8 349.7L402.3 349.7M402.3 349.7L405.9 347.4M402.3 349.7L405.9 352.1M417.8 332.3L402.3 332.8M402.3 332.8L405.8 330.4M402.3 332.8L406.0 335.1M417.8 314.8L403.2 320.0M403.2 320.0L405.8 316.6M403.2 320.0L407.4 321.0M417.8 297.2L404.7 305.5M404.7 305.5L406.5 301.6M404.7 305.5L409.0 305.5M417.8 279.5L404.5 287.5M404.5 287.5L406.4 283.6M404.5 287.5L408.8 287.7M417.8 261.8L404.3 269.4M404.3 269.4L406.3 265.6M404.3 269.4L408.6 269.6M417.8 243.9L402.6 247.0M402.6 247.0L405.7 244.0M402.6 247.0L406.6 248.6M417.8 225.9L402.9 221.7M402.9 221.7L407.0 220.4M402.9 221.7L405.7 224.9M417.8 207.8L404.5 199.9M404.5 199.9L408.8 199.7M404.5 199.9L406.4 203.7M417.8 189.6L414.8 174.4M414.8 174.4L417.8 177.5M414.8 174.4L413.2 178.4M417.8 171.2L416.6 155.8M416.6 155.8L419.2 159.2M416.6 155.8L414.5 159.6M434.7 572.0L421.1 579.4M421.1 579.4L423.1 575.6M421.1 579.4L425.4 579.7M434.7 538.1L420.1 543.4M420.1 543.4L422.7 540.0M420.1 543.4L424.3 544.4M434.7 521.1L419.4 523.7M419.4 523.7L422.6 520.8M419.4 523.7L423.3 525.4M434.7 504.1L419.2 505.2M419.2 505.2L422.7 502.6M419.2 505.2L423.0 507.3M434.7 470.1L420.2 475.6M420.2 475.6L422.7 472.1M420.2 475.6L424.4 476.5M434.7 453.1L420.8 459.9M420.8 459.9L423.0 456.2M420.8 459.9L425.1 460.4M434.7 436.0L421.4 443.9M421.4 443.9L423.3 440.0M421.4 443.9L425.7 444.0M434.7 401.6L419.2 402.5M419.2 402.5L422.7 399.9M419.2 402.5L423.0 404.6M434.7 384.4L419.6 387.9M419.6 387.9L422.6 384.8M419.6 387.9L423.6 389.3M434.7 367.1L419.3 368.9M419.3 368.9L422.6 366.1M419.3 368.9L423.1 370.8M434.7 349.7L419.2 350.2M419.2 350.2L422.7 347.8M419.2 350.2L422.9 352.4M434.7 332.3L419.2 333.0M419.2 333.0L422.7 330.5M419.2 333.0L422.9 335.1M434.7 314.8L420.5 321.0M420.5 321.0L422.9 317.4M420.5 321.0L424.8 321.7M434.7 297.2L422.0 306.1M422.0 306.1L423.6 302.1M422.0 306.1L426.3 306.0M434.7 279.5L423.0 289.7M423.0 289.7L424.2 285.6M423.0 289.7L427.3 289.1M434.7 261.8L420.9 268.8M420.9 268.8L423.0 265.0M420.9 268.8L425.2 269.2M434.7 243.9L419.6 247.3M419.6 247.3L422.6 244.2M419.6 247.3L423.6 248.8M434.7 225.9L419.2 225.7M419.2 225.7L422.8 223.4M419.2 225.7L422.8 228.1M434.7 207.8L420.6 201.3M420.6 201.3L424.9 200.7M420.6 201.3L422.9 204.9M434.7 189.6L431.5 174.4M431.5 174.4L434.6 177.5M431.5 174.4L430.0 178.4M434.7 171.2L437.2 155.9M437.2 155.9L438.9 159.9M437.2 155.9L434.3 159.1M434.7 152.8L437.9 137.6M437.9 137.6L439.4 141.6M437.9 137.6L434.8 140.6M451.6 572.0L438.2 579.8M438.2 579.8L440.2 576.0M438.2 579.8L442.5 580.0M451.6 555.0L438.8 563.7M438.8 563.7L440.4 559.8M438.8 563.7L443.1 563.7M451.6 538.1L436.7 542.3M436.7 542.3L439.5 539.1M436.7 542.3L440.8 543.6M451.6 521.1L436.3 523.7M436.3 523.7L439.5 520.8M436.3 523.7L440.3 525.4M451.6 504.1L436.1 504.4M436.1 504.4L439.7 502.0M436.1 504.4L439.7 506.7M451.6 487.1L436.5 490.8M436.5 490.8L439.5 487.7M436.5 490.8L440.6 492.2M451.6 470.1L437.1 475.5M437.1 475.5L439.6 472.1M437.1 475.5L441.3 476.5M451.6 453.1L438.1 460.6M438.1 460.6L440.1 456.8M438.1 460.6L442.3 460.9M451.6 436.0L437.8 442.9M437.8 442.9L439.9 439.2M437.8 442.9L442.0 443.4M451.6 418.8L439.3 428.3M439.3 428.3L440.7 424.2M439.3 428.3L443.6 427.9M451.6 401.6L436.1 402.0M436.1 402.0L439.6 399.6M436.1 402.0L439.8 404.3M451.6 384.4L436.2 385.8M436.2 385.8L439.5 383.1M436.2 385.8L440.0 387.8M451.6 367.1L436.2 368.5M436.2 368.5L439.5 365.8M436.2 368.5L440.0 370.5M451.6 349.7L436.1 350.6M436.1 350.6L439.6 348.0M436.1 350.6L439.9 352.7M451.6 332.3L436.1 332.3M436.1 332.3L439.7 330.0M436.1 332.3L439.7 334.7M451.6 314.8L436.3 317.3M436.3 317.3L439.5 314.4M436.3 317.3L440.2 319.0M451.6 297.2L440.2 307.7M440.2 307.7L441.3 303.5M440.2 307.7L444.4 307.0M451.6 279.5L440.0 289.8M440.0 289.8L441.1 285.6M440.0 289.8L444.2 289.1M451.6 261.8L438.8 270.5M438.8 270.5L440.5 266.6M438.8 270.5L443.1 270.4M451.6 243.9L437.1 249.4M437.1 249.4L439.7 245.9M437.1 249.4L441.3 250.3M451.6 225.9L436.2 224.0M436.2 224.0L440.1 222.1M436.2 224.0L439.5 226.8M451.6 207.8L436.6 203.7M436.6 203.7L440.7 202.4M436.6 203.7L439.5 206.9M451.6 189.6L443.2 176.6M443.2 176.6L447.1 178.3M443.2 176.6L443.2 180.9M451.6 171.2L455.4 156.2M455.4 156.2L456.8 160.3M455.4 156.2L452.2 159.1M451.6 152.8L456.3 138.0M456.3 138.0L457.5 142.1M456.3 138.0L453.0 140.7M451.6 134.1L457.5 119.8M457.5 119.8L458.3 124.0M457.5 119.8L454.0 122.2M468.5 555.0L454.2 560.9M454.2 560.9L456.6 557.4M454.2 560.9L458.4 561.7M468.5 538.1L453.4 541.4M453.4 541.4L456.4 538.4M453.4 541.4L457.4 542.9M468.5 521.1L453.2 523.6M453.2 523.6L456.4 520.7M453.2 523.6L457.1 525.3M468.5 504.1L453.2 506.4M453.2 506.4L456.4 503.5M453.2 506.4L457.1 508.2M468.5 487.1L453.9 492.3M453.9 492.3L456.5 488.9M453.9 492.3L458.1 493.3M468.5 470.1L454.2 476.2M454.2 476.2L456.6 472.6M454.2 476.2L458.5 476.9M468.5 453.1L454.2 459.0M454.2 459.0L456.6 455.5M454.2 459.0L458.4 459.8M468.5 436.0L453.9 441.2M453.9 441.2L456.5 437.8M453.9 441.2L458.1 442.2M468.5 418.8L453.7 423.3M453.7 423.3L456.4 420.0M453.7 423.3L457.8 424.5M468.5 401.6L453.6 405.8M453.6 405.8L456.4 402.6M453.6 405.8L457.7 407.1M468.5 384.4L453.7 389.1M453.7 389.1L456.5 385.8M453.7 389.1L457.9 390.2M468.5 349.7L453.1 351.5M453.1 351.5L456.4 348.8M453.1 351.5L456.9 353.4M468.5 332.3L453.0 332.9M453.0 332.9L456.5 330.4M453.0 332.9L456.7 335.1M468.5 314.8L453.7 319.5M453.7 319.5L456.5 316.1M453.7 319.5L457.9 320.6M468.5 279.5L457.2 290.2M457.2 290.2L458.2 286.0M457.2 290.2L461.5 289.4M468.5 261.8L455.6 270.3M455.6 270.3L457.3 266.3M455.6 270.3L459.9 270.2M468.5 243.9L454.0 249.4M454.0 249.4L456.5 245.9M454.0 249.4L458.2 250.3M468.5 225.9L453.2 223.7M453.2 223.7L457.0 221.9M453.2 223.7L456.4 226.6M468.5 207.8L453.8 203.0M453.8 203.0L457.9 201.9M453.8 203.0L456.5 206.3M468.5 189.6L465.2 174.4M465.2 174.4L468.2 177.5M465.2 174.4L463.7 178.5M468.5 171.2L472.3 156.2M472.3 156.2L473.7 160.3M472.3 156.2L469.1 159.1M468.5 152.8L473.2 138.0M473.2 138.0L474.3 142.1M473.2 138.0L469.9 140.7M468.5 134.1L476.7 121.0M476.7 121.0L476.8 125.3M476.7 121.0L472.8 122.8M468.5 115.3L467.7 99.9M467.7 99.9L470.2 103.3M467.7 99.9L465.5 103.6M485.4 572.0L470.4 576.0M470.4 576.0L473.3 572.8M470.4 576.0L474.5 577.3M485.4 538.1L470.1 540.8M470.1 540.8L473.3 537.8M470.1 540.8L474.1 542.5M485.4 521.1L470.0 523.3M470.0 523.3L473.3 520.4M470.0 523.3L473.9 525.1M485.4 504.1L469.9 504.9M469.9 504.9L473.4 502.4M469.9 504.9L473.6 507.0M485.4 487.1L470.7 491.9M470.7 491.9L473.4 488.6M470.7 491.9L474.8 493.0M485.4 470.1L470.6 474.9M470.6 474.9L473.4 471.5M470.6 474.9L474.8 476.0M485.4 453.1L469.9 453.2M469.9 453.2L473.5 450.9M469.9 453.2L473.5 455.5M485.4 436.0L469.9 436.5M469.9 436.5L473.4 434.0M469.9 436.5L473.6 438.7M485.4 418.8L470.4 422.7M470.4 422.7L473.3 419.5M470.4 422.7L474.5 424.1M485.4 401.6L470.7 406.4M470.7 406.4L473.4 403.1M470.7 406.4L474.8 407.6M485.4 384.4L470.8 389.5M470.8 389.5L473.4 386.1M470.8 389.5L475.0 390.5M485.4 367.1L470.8 372.3M470.8 372.3L473.4 368.9M470.8 372.3L475.0 373.3M485.4 243.9L470.0 245.6M470.0 245.6L473.3 242.8M470.0 245.6L473.8 247.5M485.4 225.9L470.0 224.0M470.0 224.0L473.9 222.1M470.0 224.0L473.3 226.8M485.4 207.8L470.1 205.1M470.1 205.1L474.1 203.4M470.1 205.1L473.3 208.0M485.4 189.6L471.6 182.4M471.6 182.4L475.9 182.0M471.6 182.4L473.8 186.2M485.4 134.1L475.0 122.6M475.0 122.6L479.2 123.7M475.0 122.6L475.7 126.9M485.4 115.3L477.2 102.2M477.2 102.2L481.1 104.0M477.2 102.2L477.1 106.5M485.4 96.4L478.3 82.6M478.3 82.6L482.0 84.8M478.3 82.6L477.9 86.9M485.4 77.3L481.5 62.3M481.5 62.3L484.7 65.2M481.5 62.3L480.2 66.4M502.3 572.0L487.2 575.6M487.2 575.6L490.2 572.5M487.2 575.6L491.3 577.1M502.3 538.1L487.0 540.5M487.0 540.5L490.2 537.6M487.0 540.5L490.9 542.2M502.3 521.1L486.9 523.0M486.9 523.0L490.2 520.2M486.9 523.0L490.8 524.9M502.3 504.1L486.8 505.4M486.8 505.4L490.3 502.7M486.8 505.4L490.6 507.4M502.3 487.1L487.0 489.8M487.0 489.8L490.2 486.9M487.0 489.8L491.0 491.5M502.3 470.1L486.9 468.7M486.9 468.7L490.7 466.7M486.9 468.7L490.2 471.4M502.3 453.1L489.5 444.3M489.5 444.3L493.8 444.4M489.5 444.3L491.2 448.3M502.3 436.0L488.7 428.5M488.7 428.5L493.0 428.1M488.7 428.5L490.8 432.2M502.3 418.8L486.8 417.6M486.8 417.6L490.6 415.5M486.8 417.6L490.3 420.2M502.3 401.6L487.2 405.0M487.2 405.0L490.2 401.9M487.2 405.0L491.2 406.5M502.3 384.4L487.7 389.6M487.7 389.6L490.3 386.2M487.7 389.6L491.9 390.6M502.3 367.1L487.7 372.4M487.7 372.4L490.3 368.9M487.7 372.4L491.9 373.3M502.3 349.7L487.6 354.8M487.6 354.8L490.3 351.4M487.6 354.8L491.8 355.8M502.3 297.2L487.5 301.7M487.5 301.7L490.2 298.4M487.5 301.7L491.6 302.9M502.3 243.9L486.8 244.3M486.8 244.3L490.3 241.9M486.8 244.3L490.5 246.5M502.3 225.9L486.9 224.3M486.9 224.3L490.7 222.3M486.9 224.3L490.2 227.0M502.3 207.8L487.0 205.6M487.0 205.6L490.8 203.8M487.0 205.6L490.2 208.5M502.3 189.6L487.0 187.2M487.0 187.2L490.9 185.5M487.0 187.2L490.2 190.1M502.3 171.2L487.0 168.7M487.0 168.7L491.0 167.0M487.0 168.7L490.2 171.6M502.3 152.8L487.2 149.4M487.2 149.4L491.2 147.9M487.2 149.4L490.2 152.5M502.3 134.1L489.1 126.0M489.1 126.0L493.4 125.9M489.1 126.0L491.0 129.9M502.3 115.3L492.1 103.7M492.1 103.7L496.3 104.8M492.1 103.7L492.7 107.9M502.3 96.4L495.3 82.6M495.3 82.6L499.1 84.7M495.3 82.6L494.9 86.8M502.3 77.3L498.3 62.3M498.3 62.3L501.5 65.2M498.3 62.3L497.0 66.4M502.3 58.0L498.0 43.1M498.0 43.1L501.2 45.9M498.0 43.1L496.7 47.2M502.3 38.5L497.7 23.7M497.7 23.7L501.0 26.5M497.7 23.7L496.5 27.9M519.2 572.0L504.7 577.4M504.7 577.4L507.2 573.9M504.7 577.4L508.9 578.3M519.2 555.0L504.0 558.0M504.0 558.0L507.1 555.0M504.0 558.0L508.0 559.6M519.2 538.1L503.9 540.3M503.9 540.3L507.1 537.4M503.9 540.3L507.7 542.1M519.2 521.1L503.8 522.8M503.8 522.8L507.1 520.0M503.8 522.8L507.6 524.7M519.2 504.1L503.7 505.0M503.7 505.0L507.2 502.5M503.7 505.0L507.5 507.1M519.2 487.1L503.7 487.9M503.7 487.9L507.2 485.4M503.7 487.9L507.4 490.0M519.2 470.1L505.0 463.8M505.0 463.8L509.3 463.1M505.0 463.8L507.4 467.4M519.2 453.1L507.1 443.4M507.1 443.4L511.4 443.8M507.1 443.4L508.4 447.5M519.2 418.8L503.9 421.1M503.9 421.1L507.1 418.3M503.9 421.1L507.8 422.9M519.2 384.4L504.6 389.5M504.6 389.5L507.2 386.1M504.6 389.5L508.8 390.6M519.2 367.1L504.6 372.3M504.6 372.3L507.2 368.9M504.6 372.3L508.8 373.3M519.2 349.7L504.4 354.4M504.4 354.4L507.2 351.1M504.4 354.4L508.6 355.6M519.2 314.8L503.9 317.1M503.9 317.1L507.1 314.2M503.9 317.1L507.8 318.9M519.2 297.2L503.8 299.0M503.8 299.0L507.1 296.2M503.8 299.0L507.6 300.9M519.2 279.5L503.7 280.7M503.7 280.7L507.2 278.1M503.7 280.7L507.5 282.8M519.2 261.8L503.7 262.3M503.7 262.3L507.2 259.8M503.7 262.3L507.4 264.5M519.2 243.9L503.7 244.4M503.7 244.4L507.2 241.9M503.7 244.4L507.4 246.6M519.2 225.9L503.7 225.8M503.7 225.8L507.3 223.5M503.7 225.8L507.3 228.2M519.2 207.8L503.7 206.7M503.7 206.7L507.5 204.6M503.7 206.7L507.2 209.3M519.2 189.6L503.7 188.5M503.7 188.5L507.5 186.4M503.7 188.5L507.2 191.1M519.2 171.2L503.7 170.6M503.7 170.6L507.4 168.4M503.7 170.6L507.2 173.1M519.2 152.8L504.0 149.8M504.0 149.8L508.0 148.2M504.0 149.8L507.1 152.8M519.2 134.1L506.0 126.0M506.0 126.0L510.3 125.9M506.0 126.0L507.9 129.9M519.2 115.3L506.5 106.5M506.5 106.5L510.8 106.6M506.5 106.5L508.1 110.5M519.2 96.4L511.4 83.0M511.4 83.0L515.2 84.9M511.4 83.0L511.2 87.3M519.2 77.3L513.1 63.0M513.1 63.0L516.7 65.4M513.1 63.0L512.4 67.3M519.2 58.0L514.9 43.1M514.9 43.1L518.2 45.9M514.9 43.1L513.7 47.2M519.2 38.5L514.8 23.7M514.8 23.7L518.0 26.5M514.8 23.7L513.5 27.8M536.1 572.0L524.6 582.4M524.6 582.4L525.7 578.2M524.6 582.4L528.8 581.7M536.1 538.1L521.1 542.0M521.1 542.0L524.0 538.8M521.1 542.0L525.2 543.3M536.1 521.1L520.7 522.9M520.7 522.9L524.0 520.1M520.7 522.9L524.5 524.8M536.1 504.1L520.6 504.8M520.6 504.8L524.1 502.3M520.6 504.8L524.3 507.0M536.1 487.1L520.6 487.8M520.6 487.8L524.1 485.3M520.6 487.8L524.3 490.0M536.1 470.1L520.7 468.3M520.7 468.3L524.6 466.4M520.7 468.3L524.0 471.0M536.1 453.1L521.4 448.2M521.4 448.2L525.5 447.1M521.4 448.2L524.1 451.5M536.1 418.8L520.8 421.4M520.8 421.4L524.0 418.5M520.8 421.4L524.8 423.1M536.1 332.3L520.8 334.5M520.8 334.5L524.0 331.6M520.8 334.5L524.7 336.3M536.1 314.8L520.6 316.0M520.6 316.0L524.1 313.4M520.6 316.0L524.4 318.1M536.1 297.2L520.6 298.3M520.6 298.3L524.1 295.7M520.6 298.3L524.4 300.4M536.1 279.5L520.6 280.5M520.6 280.5L524.1 278.0M520.6 280.5L524.4 282.6M536.1 261.8L520.6 262.3M520.6 262.3L524.1 259.8M520.6 262.3L524.3 264.5M536.1 243.9L520.6 244.3M520.6 244.3L524.1 241.9M520.6 244.3L524.3 246.6M536.1 225.9L520.6 225.9M520.6 225.9L524.2 223.6M520.6 225.9L524.2 228.2M536.1 207.8L520.6 207.8M520.6 207.8L524.2 205.4M520.6 207.8L524.2 210.1M536.1 189.6L520.6 189.1M520.6 189.1L524.3 186.9M520.6 189.1L524.1 191.6M536.1 171.2L520.7 169.9M520.7 169.9L524.4 167.9M520.7 169.9L524.0 172.6M536.1 152.8L520.9 149.9M520.9 149.9L524.8 148.3M520.9 149.9L524.0 152.9M536.1 134.1L522.3 127.1M522.3 127.1L526.6 126.6M522.3 127.1L524.4 130.8M536.1 115.3L524.1 105.5M524.1 105.5L528.4 106.0M524.1 105.5L525.4 109.6M536.1 96.4L527.7 83.4M527.7 83.4L531.6 85.2M527.7 83.4L527.7 87.7M536.1 77.3L529.3 63.4M529.3 63.4L533.0 65.6M529.3 63.4L528.8 67.6M536.1 58.0L531.3 43.3M531.3 43.3L534.7 46.0M531.3 43.3L530.2 47.4M536.1 38.5L531.0 23.9M531.0 23.9L534.4 26.5M531.0 23.9L530.0 28.1M553.0 572.0L543.4 584.2M543.4 584.2L543.8 579.9M543.4 584.2L547.5 582.8M553.0 555.0L544.6 568.0M544.6 568.0L544.6 563.7M544.6 568.0L548.5 566.3M553.0 538.1L538.1 542.5M538.1 542.5L540.9 539.3M538.1 542.5L542.3 543.7M553.0 521.1L537.6 522.7M537.6 522.7L540.9 520.0M537.6 522.7L541.4 524.7M553.0 504.1L537.5 504.8M537.5 504.8L541.0 502.3M537.5 504.8L541.2 507.0M553.0 487.1L537.5 487.5M537.5 487.5L541.1 485.1M537.5 487.5L541.2 489.8M553.0 470.1L537.5 470.2M537.5 470.2L541.1 467.8M537.5 470.2L541.1 472.5M553.0 418.8L537.6 420.5M537.6 420.5L540.9 417.8M537.6 420.5L541.4 422.5M553.0 401.6L537.6 403.6M537.6 403.6L540.9 400.8M537.6 403.6L541.5 405.5M553.0 349.7L537.6 351.3M537.6 351.3L540.9 348.6M537.6 351.3L541.4 353.3M553.0 332.3L537.6 333.8M537.6 333.8L540.9 331.1M537.6 333.8L541.4 335.8M553.0 314.8L537.5 315.9M537.5 315.9L541.0 313.3M537.5 315.9L541.3 318.0M553.0 297.2L537.5 298.3M537.5 298.3L541.0 295.7M537.5 298.3L541.3 300.4M553.0 279.5L537.5 280.6M537.5 280.6L541.0 278.0M537.5 280.6L541.3 282.7M553.0 261.8L537.5 262.3M537.5 262.3L541.0 259.9M537.5 262.3L541.2 264.5M553.0 243.9L537.5 244.4M537.5 244.4L541.0 241.9M537.5 244.4L541.2 246.6M553.0 225.9L537.5 226.4M537.5 226.4L541.0 224.0M537.5 226.4L541.2 228.6M553.0 207.8L537.5 207.8M537.5 207.8L541.1 205.5M537.5 207.8L541.1 210.1M553.0 189.6L537.5 188.6M537.5 188.6L541.3 186.5M537.5 188.6L541.0 191.2M553.0 171.2L537.7 168.9M537.7 168.9L541.6 167.1M537.7 168.9L540.9 171.7M553.0 152.8L537.7 150.5M537.7 150.5L541.6 148.7M537.7 150.5L540.9 153.4M553.0 134.1L538.4 129.0M538.4 129.0L542.5 128.0M538.4 129.0L541.0 132.4M553.0 115.3L540.6 106.0M540.6 106.0L544.9 106.3M540.6 106.0L542.1 110.0M553.0 96.4L543.8 83.9M543.8 83.9L547.8 85.5M543.8 83.9L544.0 88.2M553.0 77.3L545.3 63.8M545.3 63.8L549.1 65.8M545.3 63.8L545.1 68.1M553.0 58.0L546.9 43.8M546.9 43.8L550.5 46.2M546.9 43.8L546.2 48.0M553.0 38.5L546.9 24.3M546.9 24.3L550.4 26.7M546.9 24.3L546.1 28.5M569.9 572.0L558.6 582.7M558.6 582.7L559.6 578.5M558.6 582.7L562.9 581.9M569.9 555.0L558.9 565.9M558.9 565.9L559.8 561.7M558.9 565.9L563.1 565.1M569.9 538.1L555.5 543.9M555.5 543.9L558.0 540.4M555.5 543.9L559.8 544.7M569.9 521.1L555.2 525.9M555.2 525.9L557.9 522.6M555.2 525.9L559.3 527.0M569.9 504.1L554.4 505.0M554.4 505.0L557.9 502.4M554.4 505.0L558.1 507.1M569.9 487.1L554.4 487.2M554.4 487.2L558.0 484.8M554.4 487.2L558.0 489.5M569.9 470.1L554.4 470.2M554.4 470.2L558.0 467.8M554.4 470.2L558.0 472.5M569.9 453.1L554.4 453.2M554.4 453.2L558.0 450.8M554.4 453.2L558.0 455.5M569.9 401.6L554.5 403.0M554.5 403.0L557.8 400.4M554.5 403.0L558.3 405.0M569.9 384.4L554.5 385.8M554.5 385.8L557.8 383.1M554.5 385.8L558.3 387.8M569.9 367.1L554.5 368.4M554.5 368.4L557.8 365.8M554.5 368.4L558.3 370.5M569.9 349.7L554.5 351.1M554.5 351.1L557.8 348.4M554.5 351.1L558.3 353.1M569.9 332.3L554.5 333.6M554.5 333.6L557.9 331.0M554.5 333.6L558.2 335.6M569.9 314.8L554.4 315.9M554.4 315.9L557.9 313.3M554.4 315.9L558.2 318.0M569.9 297.2L554.4 298.3M554.4 298.3L557.9 295.7M554.4 298.3L558.2 300.4M569.9 279.5L554.4 280.5M554.4 280.5L557.9 277.9M554.4 280.5L558.2 282.6M569.9 261.8L554.4 262.4M554.4 262.4L557.9 259.9M554.4 262.4L558.1 264.6M569.9 243.9L554.4 244.6M554.4 244.6L557.9 242.1M554.4 244.6L558.1 246.8M569.9 225.9L554.4 226.7M554.4 226.7L557.9 224.2M554.4 226.7L558.1 228.9M569.9 207.8L554.4 208.4M554.4 208.4L557.9 205.9M554.4 208.4L558.1 210.6M569.9 189.6L554.5 188.1M554.5 188.1L558.3 186.1M554.5 188.1L557.8 190.8M569.9 171.2L554.7 168.2M554.7 168.2L558.7 166.6M554.7 168.2L557.8 171.2M569.9 152.8L554.8 149.1M554.8 149.1L558.9 147.7M554.8 149.1L557.8 152.3M569.9 134.1L556.5 126.4M556.5 126.4L560.8 126.2M556.5 126.4L558.4 130.2M569.9 115.3L556.9 106.9M556.9 106.9L561.2 106.9M556.9 106.9L558.7 110.8M569.9 96.4L561.2 83.6M561.2 83.6L565.1 85.3M561.2 83.6L561.3 87.9M569.9 77.3L562.6 63.6M562.6 63.6L566.4 65.7M562.6 63.6L562.3 67.9M569.9 58.0L564.1 43.7M564.1 43.7L567.6 46.1M564.1 43.7L563.2 47.9M569.9 38.5L563.9 24.3M563.9 24.3L567.4 26.7M563.9 24.3L563.1 28.5M586.8 572.0L572.6 578.2M572.6 578.2L575.0 574.6M572.6 578.2L576.8 578.9M586.8 555.0L572.6 561.2M572.6 561.2L574.9 557.6M572.6 561.2L576.8 561.9M586.8 538.1L572.7 544.5M572.7 544.5L575.0 540.9M572.7 544.5L577.0 545.2M586.8 521.1L571.7 524.6M571.7 524.6L574.7 521.5M571.7 524.6L575.7 526.1M586.8 504.1L571.3 504.2M571.3 504.2L574.9 501.8M571.3 504.2L574.9 506.5M586.8 487.1L571.3 487.3M571.3 487.3L574.9 484.9M571.3 487.3L574.9 489.6M586.8 470.1L571.3 470.2M571.3 470.2L574.9 467.8M571.3 470.2L574.9 472.5M586.8 453.1L571.3 453.4M571.3 453.4L574.9 451.0M571.3 453.4L575.0 455.6M586.8 436.0L571.4 437.3M571.4 437.3L574.7 434.7M571.4 437.3L575.2 439.3M586.8 418.8L571.4 420.1M571.4 420.1L574.8 417.5M571.4 420.1L575.1 422.2M586.8 401.6L571.4 402.9M571.4 402.9L574.8 400.3M571.4 402.9L575.1 405.0M586.8 384.4L571.4 385.7M571.4 385.7L574.7 383.1M571.4 385.7L575.2 387.8M586.8 367.1L571.4 368.4M571.4 368.4L574.7 365.8M571.4 368.4L575.2 370.5M586.8 349.7L571.4 351.1M571.4 351.1L574.8 348.4M571.4 351.1L575.1 353.1M586.8 332.3L571.3 333.5M571.3 333.5L574.8 330.9M571.3 333.5L575.1 335.5M586.8 314.8L571.3 315.8M571.3 315.8L574.8 313.3M571.3 315.8L575.1 317.9M586.8 297.2L571.3 298.2M571.3 298.2L574.8 295.6M571.3 298.2L575.1 300.3M586.8 279.5L571.3 280.3M571.3 280.3L574.8 277.8M571.3 280.3L575.0 282.5M586.8 261.8L571.3 262.4M571.3 262.4L574.8 259.9M571.3 262.4L575.0 264.6M586.8 243.9L571.3 244.5M571.3 244.5L574.8 242.0M571.3 244.5L575.0 246.7M586.8 225.9L571.3 226.6M571.3 226.6L574.8 224.1M571.3 226.6L575.0 228.8M586.8 207.8L571.3 208.1M571.3 208.1L574.9 205.7M571.3 208.1L575.0 210.4M586.8 189.6L571.3 188.4M571.3 188.4L575.1 186.4M571.3 188.4L574.8 191.0M586.8 171.2L571.6 168.0M571.6 168.0L575.7 166.4M571.6 168.0L574.7 171.0M586.8 152.8L572.4 146.9M572.4 146.9L576.7 146.1M572.4 146.9L574.9 150.4M586.8 134.1L574.0 125.3M574.0 125.3L578.3 125.5M574.0 125.3L575.7 129.3M586.8 115.3L574.9 105.4M574.9 105.4L579.2 105.9M574.9 105.4L576.2 109.5M586.8 96.4L577.3 84.1M577.3 84.1L581.4 85.6M577.3 84.1L577.7 88.4M586.8 77.3L580.2 63.3M580.2 63.3L583.8 65.5M580.2 63.3L579.6 67.5M586.8 58.0L580.3 43.9M580.3 43.9L583.9 46.2M580.3 43.9L579.7 48.2M586.8 38.5L580.1 24.6M580.1 24.6L583.8 26.8M580.1 24.6L579.5 28.8M603.7 572.0L588.2 572.9M588.2 572.9L591.7 570.3M588.2 572.9L592.0 575.0M603.7 538.1L588.4 540.5M588.4 540.5L591.6 537.6M588.4 540.5L592.3 542.2M603.7 521.1L588.2 520.9M588.2 520.9L591.8 518.6M588.2 520.9L591.8 523.3M603.7 504.1L588.2 504.3M588.2 504.3L591.8 501.9M588.2 504.3L591.8 506.6M603.7 487.1L588.2 487.7M588.2 487.7L591.7 485.3M588.2 487.7L591.9 489.9M603.7 470.1L588.2 471.0M588.2 471.0L591.7 468.5M588.2 471.0L592.0 473.1M603.7 453.1L588.2 454.0M588.2 454.0L591.7 451.4M588.2 454.0L592.0 456.1M603.7 436.0L588.3 437.2M588.3 437.2L591.7 434.6M588.3 437.2L592.0 439.3M603.7 418.8L588.3 420.1M588.3 420.1L591.7 417.5M588.3 420.1L592.0 422.1M603.7 401.6L588.3 403.0M588.3 403.0L591.6 400.3M588.3 403.0L592.1 405.0M603.7 384.4L588.3 385.7M588.3 385.7L591.6 383.1M588.3 385.7L592.1 387.7M603.7 367.1L588.3 368.4M588.3 368.4L591.7 365.7M588.3 368.4L592.0 370.4M603.7 349.7L588.2 350.9M588.2 350.9L591.7 348.3M588.2 350.9L592.0 352.9M603.7 332.3L588.2 333.4M588.2 333.4L591.7 330.8M588.2 333.4L592.0 335.5M603.7 314.8L588.2 315.8M588.2 315.8L591.7 313.3M588.2 315.8L592.0 317.9M603.7 297.2L588.2 298.1M588.2 298.1L591.7 295.6M588.2 298.1L592.0 300.3M603.7 279.5L588.2 280.5M588.2 280.5L591.7 278.0M588.2 280.5L592.0 282.6M603.7 261.8L588.2 262.8M588.2 262.8L591.7 260.2M588.2 262.8L592.0 264.9M603.7 243.9L588.2 244.7M588.2 244.7L591.7 242.2M588.2 244.7L592.0 246.9M603.7 225.9L588.2 226.3M588.2 226.3L591.8 223.8M588.2 226.3L591.9 228.5M603.7 207.8L588.2 208.2M588.2 208.2L591.8 205.7M588.2 208.2L591.9 210.4M603.7 189.6L588.2 190.1M588.2 190.1L591.7 187.6M588.2 190.1L591.9 192.3M603.7 171.2L588.2 170.1M588.2 170.1L592.0 168.0M588.2 170.1L591.7 172.7M603.7 152.8L588.4 150.3M588.4 150.3L592.3 148.6M588.4 150.3L591.6 153.2M603.7 134.1L589.1 128.9M589.1 128.9L593.3 127.9M589.1 128.9L591.7 132.3M603.7 115.3L590.5 107.2M590.5 107.2L594.8 107.1M590.5 107.2L592.4 111.1M603.7 96.4L592.7 85.5M592.7 85.5L596.9 86.4M592.7 85.5L593.6 89.7M603.7 77.3L595.8 63.9M595.8 63.9L599.7 65.9M595.8 63.9L595.6 68.2M603.7 58.0L595.7 44.7M595.7 44.7L599.6 46.6M595.7 44.7L595.6 49.0M603.7 38.5L595.7 25.3M595.7 25.3L599.5 27.2M595.7 25.3L595.5 29.6M620.6 572.0L605.1 572.9M605.1 572.9L608.6 570.4M605.1 572.9L608.9 575.1M620.6 555.0L605.1 555.5M605.1 555.5L608.6 553.0M605.1 555.5L608.8 557.7M620.6 538.1L605.1 538.3M605.1 538.3L608.7 535.9M605.1 538.3L608.7 540.6M620.6 521.1L605.1 521.0M605.1 521.0L608.7 518.7M605.1 521.0L608.7 523.4M620.6 504.1L605.1 504.1M605.1 504.1L608.7 501.8M605.1 504.1L608.7 506.5M620.6 487.1L605.1 488.1M605.1 488.1L608.6 485.5M605.1 488.1L608.9 490.2M620.6 470.1L605.1 471.2M605.1 471.2L608.6 468.6M605.1 471.2L608.9 473.3M620.6 453.1L605.1 454.1M605.1 454.1L608.6 451.5M605.1 454.1L608.9 456.2M620.6 436.0L605.1 437.1M605.1 437.1L608.6 434.5M605.1 437.1L608.9 439.2M620.6 418.8L605.2 420.2M605.2 420.2L608.5 417.5M605.2 420.2L609.0 422.2M620.6 401.6L605.2 403.0M605.2 403.0L608.5 400.3M605.2 403.0L609.0 405.0M620.6 384.4L605.2 385.7M605.2 385.7L608.5 383.1M605.2 385.7L609.0 387.8M620.6 367.1L605.1 368.3M605.1 368.3L608.6 365.7M605.1 368.3L608.9 370.4M620.6 349.7L605.1 350.8M605.1 350.8L608.6 348.2M605.1 350.8L608.9 352.9M620.6 332.3L605.1 333.4M605.1 333.4L608.6 330.8M605.1 333.4L608.9 335.5M620.6 314.8L605.1 315.9M605.1 315.9L608.6 313.3M605.1 315.9L608.9 318.0M620.6 297.2L605.1 298.2M605.1 298.2L608.6 295.6M605.1 298.2L608.9 300.3M620.6 279.5L605.1 280.6M605.1 280.6L608.6 278.0M605.1 280.6L608.9 282.7M620.6 261.8L605.1 262.8M605.1 262.8L608.6 260.2M605.1 262.8L608.9 264.9M620.6 243.9L605.1 244.9M605.1 244.9L608.6 242.3M605.1 244.9L608.9 247.0M620.6 225.9L605.1 226.3M605.1 226.3L608.6 223.9M605.1 226.3L608.8 228.6M620.6 207.8L605.1 208.5M605.1 208.5L608.6 206.0M605.1 208.5L608.8 210.7M620.6 189.6L605.1 190.4M605.1 190.4L608.6 187.9M605.1 190.4L608.8 192.5M620.6 171.2L605.1 170.7M605.1 170.7L608.8 168.5M605.1 170.7L608.6 173.2M620.6 152.8L605.2 151.3M605.2 151.3L609.0 149.3M605.2 151.3L608.5 154.0M620.6 134.1L605.6 130.3M605.6 130.3L609.7 128.9M605.6 130.3L608.5 133.5M620.6 115.3L606.5 108.8M606.5 108.8L610.8 108.2M606.5 108.8L608.8 112.5M620.6 96.4L609.1 86.0M609.1 86.0L613.3 86.7M609.1 86.0L610.2 90.2M620.6 77.3L613.0 63.8M613.0 63.8L616.8 65.8M613.0 63.8L612.8 68.1M620.6 58.0L612.4 44.8M612.4 44.8L616.3 46.7M612.4 44.8L612.3 49.1M620.6 38.5L612.4 25.4M612.4 25.4L616.3 27.2M612.4 25.4L612.3 29.7M637.5 572.0L622.1 573.5M622.1 573.5L625.4 570.8M622.1 573.5L625.9 575.5M637.5 555.0L622.0 556.0M622.0 556.0L625.5 553.4M622.0 556.0L625.8 558.1M637.5 538.1L622.0 538.4M622.0 538.4L625.6 536.0M622.0 538.4L625.7 540.7M637.5 521.1L622.0 521.2M622.0 521.2L625.6 518.8M622.0 521.2L625.6 523.5M637.5 504.1L622.0 504.4M622.0 504.4L625.6 502.0M622.0 504.4L625.6 506.6M637.5 487.1L622.0 488.0M622.0 488.0L625.5 485.5M622.0 488.0L625.8 490.2M637.5 470.1L622.0 471.2M622.0 471.2L625.5 468.6M622.0 471.2L625.8 473.3M637.5 453.1L622.0 454.1M622.0 454.1L625.5 451.5M622.0 454.1L625.8 456.2M637.5 436.0L622.0 437.1M622.0 437.1L625.5 434.5M622.0 437.1L625.8 439.2M637.5 418.8L622.1 420.1M622.1 420.1L625.5 417.5M622.1 420.1L625.8 422.2M637.5 401.6L622.1 403.0M622.1 403.0L625.4 400.3M622.1 403.0L625.9 405.0M637.5 384.4L622.1 385.7M622.1 385.7L625.5 383.1M622.1 385.7L625.8 387.7M637.5 367.1L622.0 368.3M622.0 368.3L625.5 365.7M622.0 368.3L625.8 370.3M637.5 349.7L622.0 350.8M622.0 350.8L625.5 348.2M622.0 350.8L625.8 352.9M637.5 332.3L622.0 333.4M622.0 333.4L625.5 330.8M622.0 333.4L625.8 335.5M637.5 314.8L622.0 315.8M622.0 315.8L625.5 313.3M622.0 315.8L625.8 317.9M637.5 297.2L622.0 298.1M622.0 298.1L625.5 295.6M622.0 298.1L625.8 300.3M637.5 279.5L622.0 280.5M622.0 280.5L625.5 278.0M622.0 280.5L625.8 282.6M637.5 261.8L622.0 262.8M622.0 262.8L625.5 260.2M622.0 262.8L625.8 264.9M637.5 243.9L622.0 244.8M622.0 244.8L625.5 242.2M622.0 244.8L625.8 246.9M637.5 225.9L622.0 226.2M622.0 226.2L625.6 223.8M622.0 226.2L625.7 228.5M637.5 207.8L622.0 208.2M622.0 208.2L625.5 205.8M622.0 208.2L625.7 210.5M637.5 189.6L622.0 190.2M622.0 190.2L625.5 187.7M622.0 190.2L625.7 192.4M637.5 171.2L622.0 170.4M622.0 170.4L625.8 168.2M622.0 170.4L625.5 172.9M637.5 152.8L622.1 150.7M622.1 150.7L626.0 148.9M622.1 150.7L625.4 153.5M637.5 134.1L622.6 129.9M622.6 129.9L626.7 128.6M622.6 129.9L625.4 133.1M637.5 115.3L623.6 108.6M623.6 108.6L627.8 108.0M623.6 108.6L625.8 112.3M637.5 96.4L625.9 86.1M625.9 86.1L630.2 86.7M625.9 86.1L627.1 90.2M637.5 77.3L629.0 64.4M629.0 64.4L632.9 66.1M629.0 64.4L629.0 68.7M637.5 58.0L629.2 44.9M629.2 44.9L633.1 46.7M629.2 44.9L629.2 49.2M637.5 38.5L629.1 25.5M629.1 25.5L633.0 27.3M629.1 25.5L629.1 29.8"/>
</g>
<g clip-path="url(#mc)" stroke="#000" stroke-width="1" shape-rendering="crispEdges">
<line x1="130.5" y1="38" x2="130.5" y2="570"/>
<line x1="214.5" y1="38" x2="214.5" y2="570"/>
<line x1="299.5" y1="38" x2="299.5" y2="570"/>
<line x1="383.5" y1="38" x2="383.5" y2="570"/>
<line x1="468.5" y1="38" x2="468.5" y2="570"/>
<line x1="552.5" y1="38" x2="552.5" y2="570"/>
<line x1="113" y1="133.5" x2="637" y2="133.5"/>
<line x1="113" y1="225.5" x2="637" y2="225.5"/>
<line x1="113" y1="314.5" x2="637" y2="314.5"/>
<line x1="113" y1="400.5" x2="637" y2="400.5"/>
<line x1="113" y1="485.5" x2="637" y2="485.5"/>
</g>
<g clip-path="url(#mc)" shape-rendering="crispEdges">
<polygon points="502.0,36.0 502.0,39.0 500.0,45.0 495.0,48.0 494.0,56.0 496.0,62.0 493.0,68.0 490.0,73.0 485.0,76.0 481.0,79.0 479.0,85.0 474.0,91.0 471.0,96.0 468.0,100.0 462.0,102.0 461.0,108.0 462.0,115.0 457.0,122.0 453.0,128.0 449.0,132.0 445.0,136.0 441.0,140.0 436.0,143.0 432.0,147.0 429.0,152.0 425.0,156.0 421.0,159.0 416.0,163.0 412.0,167.0 412.0,169.0 410.0,170.0 402.0,173.0 394.0,174.0 386.0,176.0 381.0,177.0 378.0,179.0 375.0,184.0 371.0,186.6 367.6,185.0 366.0,179.0 364.8,173.0 362.4,167.0 359.2,167.0 358.4,173.0 360.0,177.0 359.2,181.4 357.0,186.0 354.0,183.0 349.0,179.0 350.0,182.0 352.0,187.0 348.0,189.0 345.0,193.0 340.0,191.0 334.0,193.0 328.0,194.0 323.0,197.0 316.0,199.0 311.0,202.0 307.0,201.0 303.0,205.0 302.0,209.0 305.0,212.0 307.0,217.0 303.0,219.0 299.0,218.0 296.0,212.0 296.0,207.0 298.0,202.0 296.0,199.0 292.0,195.0 288.0,199.0 283.0,197.0 278.0,195.0 275.0,192.0 270.0,194.0 266.0,197.0 266.0,197.0 260.0,200.0 255.0,206.0 243.0,206.0 242.0,212.0 241.0,219.0 235.0,224.0 231.0,229.0 229.0,235.0 226.0,243.0 229.0,249.0 234.0,255.0 239.0,261.0 241.0,267.0 247.0,275.0 255.0,283.0 261.0,288.0 266.0,291.0 271.0,294.0 274.0,299.0 275.0,302.0 275.0,302.0 278.0,306.0 282.0,311.0 285.0,320.0 286.0,330.0 287.0,341.0 290.0,349.0 287.0,356.0 286.0,362.0 285.0,370.0 282.0,376.0 278.0,379.0 272.0,382.0 266.0,384.0 266.0,388.0 261.0,390.0 255.0,392.0 249.0,395.0 244.0,398.0 241.0,403.0 239.0,408.0 233.0,411.0 227.0,415.0 222.0,418.0 219.0,422.0 214.0,424.0 212.0,422.0 212.0,416.0 213.0,408.0 215.0,400.0 210.0,397.0 205.0,395.0 200.0,392.0 195.0,390.0 191.0,388.0 194.0,384.0 191.0,381.0 188.0,384.0 184.0,382.0 182.0,377.0 180.0,370.0 177.0,363.0 173.0,364.0 169.0,360.0 164.0,357.0 159.0,354.0 151.0,355.0 144.0,355.0 143.0,350.0 146.0,347.0 147.0,341.0 141.0,339.0 135.0,340.0 131.0,342.0 131.0,350.0 130.0,364.0 126.0,370.0 123.0,378.0 121.0,386.0 118.0,392.0 116.0,398.0 116.0,406.0 119.0,413.0 126.0,414.0 130.0,410.0 131.0,418.0 132.0,426.0 135.0,430.0 137.0,435.0 136.8,435.0 137.8,443.2 141.9,449.4 148.1,453.5 154.3,453.5 159.4,457.7 164.6,463.8 170.7,468.0 176.9,474.1 182.1,479.3 185.2,484.4 188.3,490.6 188.3,498.9 187.2,507.1 189.3,515.3 191.3,521.5 195.5,527.7 198.6,533.9 200.6,540.1 201.6,546.2 197.5,548.3 193.4,547.3 189.3,546.2 186.2,544.2 181.0,540.1 174.9,535.9 168.7,531.8 162.5,526.7 155.3,522.6 153.2,517.4 149.1,511.2 145.0,505.0 141.9,496.8 140.9,489.6 136.8,482.4 135.7,474.1 133.7,465.9 131.6,457.7 126.5,453.5 122.3,447.4 117.2,441.2 114.1,435.0 105.0,435.0 105.0,30.0 502.0,30.0" fill="#c0c0c0" stroke="#000" stroke-width="1" stroke-linejoin="round" />
<polygon points="153.2,535.9 157.4,534.5 160.4,537.0 160.0,540.5 156.3,541.7 153.4,539.7" fill="#c0c0c0" stroke="#000" stroke-width="1" stroke-linejoin="round" />
<polygon points="165.0,545.2 169.7,545.2 174.9,549.3 179.0,554.5 178.0,558.2 172.8,556.5 168.3,552.8 165.6,549.3" fill="#c0c0c0" stroke="#000" stroke-width="1" stroke-linejoin="round" />
<polygon points="104.8,506.1 113.1,509.2 119.2,512.3 124.4,516.4 129.5,521.5 132.6,526.7 137.8,528.7 141.9,532.9 145.0,535.9 148.1,532.9 152.2,537.0 155.3,541.1 160.4,542.1 165.6,545.2 168.7,550.4 172.8,553.5 179.0,556.5 184.1,558.6 188.3,562.7 192.4,565.8 195.5,569.9 196.5,577.2 104.8,577.2" fill="#c0c0c0" stroke="#000" stroke-width="1" stroke-linejoin="round" />
<polygon points="286.6,577.2 286.6,569.9 284.5,562.7 282.5,556.5 283.5,549.3 285.6,543.2 289.7,538.0 292.8,537.0 295.9,541.1 300.0,542.1 304.1,541.1 308.2,542.1 312.4,544.2 317.5,543.2 318.5,537.0 321.6,531.8 322.7,526.7 324.7,523.6 329.9,521.5 337.1,519.9 343.3,519.1 348.4,517.4 352.5,513.3 356.6,508.1 360.8,504.0 364.9,498.9 366.9,493.7 371.1,492.7 375.2,490.6 379.3,486.5 383.4,485.5 389.6,484.4 393.7,481.4 397.8,475.2 402.0,470.0 406.1,464.9 410.2,458.7 413.3,452.5 415.4,454.6 417.4,449.4 420.9,447.4 421.0,447.4 423.1,453.5 426.2,459.7 430.3,465.9 433.4,471.1 438.5,474.1 443.7,476.2 449.8,479.3 455.0,482.4 451.9,485.5 445.7,485.5 440.6,486.5 437.5,489.6 441.6,493.7 445.7,495.8 440.6,496.8 435.4,498.9 431.3,496.8 427.2,497.8 430.3,503.0 426.2,506.1 429.2,511.2 425.1,515.3 427.2,521.5 430.3,526.7 433.4,531.8 431.3,535.9 435.4,540.1 440.6,545.2 445.7,550.4 450.9,553.5 447.8,556.5 440.6,556.5 433.4,556.5 429.2,560.7 428.2,569.9 428.2,577.2" fill="#c0c0c0" stroke="#000" stroke-width="1" stroke-linejoin="round" />
<polygon points="285.0,229.0 292.0,227.0 301.0,226.0 309.0,225.0 315.0,227.0 316.0,231.0 313.0,236.0 311.0,241.0 308.0,247.0 304.0,251.0 299.0,254.0 294.0,256.0 288.0,256.0 283.0,254.0 278.0,251.0 276.4,246.0 277.0,240.0 280.0,235.0 282.0,231.0" fill="#c0c0c0" stroke="#000" stroke-width="1" stroke-linejoin="round" />
<polygon points="494.0,129.0 498.0,130.0 501.0,134.0 500.0,140.0 498.0,148.0 496.0,156.0 494.0,164.0 493.0,169.0 492.0,169.0 490.0,172.0 486.0,178.0 484.0,184.0 482.0,189.0 480.0,187.0 478.0,181.0 473.0,175.0 470.0,169.0 471.0,169.0 473.4,158.0 477.0,150.0 481.0,143.0 485.0,136.0 489.0,131.0" fill="#c0c0c0" stroke="#000" stroke-width="1" stroke-linejoin="round" />
<polygon points="478.3,252.5 482.0,250.6 487.0,250.6 490.8,252.5 495.2,255.0 499.5,256.3 503.3,255.0 505.2,251.9 507.1,252.5 506.4,257.5 505.2,262.5 506.4,268.8 508.9,273.2 510.8,276.9 510.2,281.3 508.3,286.3 505.8,290.1 503.3,293.2 499.5,295.7 495.8,298.2 493.9,302.6 492.7,306.3 492.0,310.1 494.5,313.8 495.8,318.2 496.4,323.2 498.3,327.6 499.5,328.8 503.3,331.3 505.8,330.6 508.3,330.0 509.6,326.9 512.1,325.6 515.8,326.3 518.3,328.8 521.5,331.3 524.0,333.8 526.5,333.1 529.6,333.8 532.1,336.9 530.2,340.0 531.5,343.8 534.0,346.9 537.1,349.4 538.3,353.2 537.1,355.0 534.6,351.9 531.5,349.4 528.3,347.5 525.2,344.4 522.7,340.6 519.6,336.9 515.8,334.4 512.1,331.9 510.2,330.0 508.9,332.5 510.8,335.6 512.7,339.4 513.3,343.1 511.4,343.8 509.6,340.6 506.4,337.5 503.3,335.0 499.5,333.1 496.4,332.5 493.9,333.8 490.8,336.3 487.0,335.6 483.3,333.8 480.1,332.5 478.3,328.8 478.9,325.0 478.9,330.1 480.8,327.0 483.9,325.1 485.2,322.0 483.3,319.5 480.1,318.2 478.3,320.1 477.6,323.8 475.8,323.8 473.3,319.5 470.8,315.1 469.5,310.1 468.9,305.1 467.0,300.1 465.8,295.7 465.1,290.7 467.6,291.9 471.4,294.4 474.5,292.6 473.9,287.5 475.1,282.5 475.1,277.5 476.4,272.5 475.1,267.5 476.4,262.5 477.6,257.5" fill="#c0c0c0" stroke="#000" stroke-width="1" stroke-linejoin="round" />
<polygon points="537.5,331.3 540.7,331.3 541.9,335.0 540.1,338.8 537.5,338.1 536.9,334.4" fill="#c0c0c0" stroke="#000" stroke-width="1.7" stroke-linejoin="round" />
<polygon points="475.1,340.6 480.8,340.0 485.2,340.6 488.9,342.1 492.7,346.0 494.5,350.7 494.8,355.0 493.5,358.5 490.5,361.3 487.4,362.5 485.5,359.4 483.5,355.4 481.7,351.0 479.8,346.7 477.0,343.5" fill="#c0c0c0" stroke="#000" stroke-width="1.7" stroke-linejoin="round" />
<polygon points="500.2,340.0 502.7,340.0 503.9,342.5 502.1,344.4 500.2,343.1" fill="#c0c0c0" stroke="#000" stroke-width="1.7" stroke-linejoin="round" />
<polygon points="509.4,358.2 513.1,358.2 513.8,360.7 510.6,361.3" fill="#c0c0c0" stroke="#000" stroke-width="1.7" stroke-linejoin="round" />
<polygon points="523.8,357.5 526.9,356.9 530.0,360.0 533.2,363.2 536.3,366.9 535.0,368.2 531.9,365.7 528.8,363.2 525.7,363.2 523.8,361.3" fill="#c0c0c0" stroke="#000" stroke-width="1.7" stroke-linejoin="round" />
<polygon points="501.9,370.1 505.0,370.7 510.0,373.2 514.4,374.4 518.8,375.1 521.9,373.8 521.3,377.6 519.4,380.7 516.3,383.2 512.5,385.7 508.8,387.6 505.6,389.5 503.1,392.0 501.9,392.6 501.3,388.8 502.5,383.8 503.8,378.8 504.4,373.8" fill="#c0c0c0" stroke="#000" stroke-width="1.7" stroke-linejoin="round" />
<polygon points="511.3,388.8 513.5,389.1 513.8,391.6 511.9,392.1" fill="#c0c0c0" stroke="#000" stroke-width="1" stroke-linejoin="round" />
<polygon points="510.6,403.2 513.1,400.1 516.9,397.6 518.8,392.6 520.0,387.6 521.9,384.4 525.0,383.8 526.9,385.7 526.9,390.1 525.7,395.1 524.4,400.1 523.2,405.1 522.5,410.1 522.3,408.8 523.2,413.1 521.3,415.7 518.8,415.0 516.9,411.3 513.8,408.8 510.7,406.9 509.4,402.5 509.4,407.6 508.8,404.5" fill="#c0c0c0" stroke="#000" stroke-width="1.7" stroke-linejoin="round" />
<polygon points="535.7,383.2 534.4,388.8 531.9,395.1 529.4,401.3 526.9,407.6 525.7,411.4 525.3,403.8 524.7,407.5 525.9,406.9 527.8,402.5 529.4,407.6 531.9,402.6 534.4,396.3 536.3,390.1 537.2,385.1" fill="#c0c0c0" stroke="#000" stroke-width="1.7" stroke-linejoin="round" />
<polygon points="533.8,401.3 537.5,398.8 541.9,398.2 544.4,400.1 545.1,403.8 542.6,406.3 538.2,407.6 534.4,405.7" fill="#c0c0c0" stroke="#000" stroke-width="1.7" stroke-linejoin="round" />
<polygon points="541.3,357.5 546.3,356.9 552.6,355.7 556.9,356.9 559.5,360.0 561.3,363.8 560.7,368.8 560.1,373.2 562.0,376.9 562.6,379.4 560.1,380.7 556.9,379.4 555.1,375.7 553.8,371.3 552.6,367.5 549.4,365.7 545.7,363.2 542.6,360.7" fill="#c0c0c0" stroke="#000" stroke-width="1.7" stroke-linejoin="round" />
<polygon points="541.9,373.2 544.4,371.9 546.3,374.4 546.9,377.6 550.1,378.8 552.6,378.2 553.2,382.6 553.8,387.6 555.7,391.3 556.9,395.1 555.1,397.6 552.6,398.2 550.1,396.3 549.4,392.0 548.2,386.9 545.7,383.2 543.8,379.4 541.9,376.3" fill="#c0c0c0" stroke="#000" stroke-width="1.7" stroke-linejoin="round" />
<polygon points="528.2,413.8 530.7,413.5 531.1,415.3 528.8,415.8" fill="#c0c0c0" stroke="#000" stroke-width="1" stroke-linejoin="round" />
<polygon points="547.0,413.8 548.8,413.8 549.1,415.7 547.2,415.7" fill="#c0c0c0" stroke="#000" stroke-width="1" stroke-linejoin="round" />
<polygon points="500.5,314.5 502.3,314.5 502.8,317.6 501.8,320.1 500.5,318.2" fill="#c0c0c0" stroke="#000" stroke-width="1" stroke-linejoin="round" />
<polygon points="501.9,451.9 500.7,448.8 501.9,445.1 503.8,441.3 505.7,437.6 508.2,435.1 511.9,433.2 515.7,432.5 518.8,431.3 518.2,428.2 520.1,425.7 523.2,425.0 525.7,423.8 529.4,423.8 531.9,425.7 533.2,429.4 532.6,432.5 530.7,435.7 533.8,436.9 536.9,433.8 540.7,431.3 541.3,427.5 543.8,425.0 547.6,425.7 549.5,421.9 552.6,419.4 556.3,418.2 560.1,418.8 562.0,415.0 561.4,410.6 560.1,406.3 562.0,405.0 565.1,407.5 568.2,410.0 570.7,413.8 573.2,416.9 575.1,420.0 573.9,423.8 575.7,427.5 577.0,431.3 579.3,443.2 578.3,449.4 575.2,455.6 573.1,459.7 571.1,454.6 568.0,450.5 565.9,446.3 562.8,449.4 559.7,454.6 561.8,460.8 564.9,465.9 561.8,472.1 558.7,475.2 555.6,471.1 551.5,469.0 545.3,465.9 540.2,461.8 537.1,456.6 536.1,450.5 538.1,443.2 536.3,453.8 538.2,449.4 540.7,446.3 538.8,443.2 536.3,440.7 533.2,438.8 530.1,437.6 528.2,440.1 525.7,443.2 523.2,441.3 520.7,439.4 518.2,443.2 516.3,445.1 514.4,441.3 512.5,438.8 510.0,440.7 508.2,443.8 506.9,447.6 505.7,451.3 503.8,453.2" fill="#c0c0c0" stroke="#000" stroke-width="1" stroke-linejoin="round" />
<polygon points="500.0,457.6 503.2,456.3 505.0,458.2 504.4,460.7 501.3,461.3" fill="#c0c0c0" stroke="#000" stroke-width="1.7" stroke-linejoin="round" />
<polygon points="412.5,441.4 416.3,435.1 418.8,430.1 421.9,425.1 425.6,420.1 430.0,415.1 435.0,411.3 440.0,406.3 444.4,401.3 448.2,397.6 452.5,392.5 456.3,388.8 458.8,386.3 461.3,387.5 461.9,391.3 459.4,394.4 456.3,396.3 452.5,398.8 448.8,402.6 446.9,406.9 444.4,410.7 440.0,414.5 435.7,418.2 431.3,422.0 426.9,425.1 423.8,427.6 421.9,431.3 419.4,435.1 417.5,438.9 415.0,442.6" fill="#c0c0c0" stroke="#000" stroke-width="1.7" stroke-linejoin="round" />
<polygon points="466.9,361.9 470.7,361.3 472.8,363.8 471.9,367.5 469.4,369.8 467.3,367.5 466.3,364.4" fill="#c0c0c0" stroke="#000" stroke-width="1.7" stroke-linejoin="round" />
<polygon points="456.9,378.2 460.7,377.5 463.2,380.0 462.3,384.0 458.8,385.0 456.3,382.5" fill="#c0c0c0" stroke="#000" stroke-width="1.7" stroke-linejoin="round" />
<polygon points="465.3,577.2 465.3,569.9 467.4,562.7 469.4,557.6 475.6,556.5 480.7,553.5 484.9,548.3 491.0,549.3 499.3,552.4 509.6,553.5 519.9,555.5 530.2,554.5 538.4,552.4 544.6,549.3 549.8,545.2 554.9,543.2 557.0,546.2 552.8,551.4 547.7,556.5 544.6,560.7 536.4,563.8 528.1,564.8 517.8,563.8 509.6,560.7 501.3,559.6 493.1,560.7 484.9,558.6 476.6,559.6 471.5,563.8 469.4,569.9 469.4,577.2" fill="#c0c0c0" stroke="#000" stroke-width="1" stroke-linejoin="round" />
<polygon points="609.2,528.7 613.3,526.7 615.0,530.8 612.3,535.9 609.2,537.0 607.5,532.9" fill="#c0c0c0" stroke="#000" stroke-width="1" stroke-linejoin="round" />
<polygon points="597.9,538.0 600.9,533.9 603.0,538.0 604.0,544.2 603.0,550.4 599.9,554.5 596.8,553.5 594.8,547.3 595.8,542.1" fill="#c0c0c0" stroke="#000" stroke-width="1" stroke-linejoin="round" />
<polygon points="611.2,545.2 615.4,544.2 616.4,549.3 613.3,554.5 609.2,557.6 612.3,560.7 617.4,563.8 619.5,566.8 615.4,565.8 609.2,562.7 605.1,563.8 603.0,567.9 602.6,577.2 598.9,577.2 599.9,567.9 596.8,563.8 598.9,558.6 603.0,554.5 607.1,549.3" fill="#c0c0c0" stroke="#000" stroke-width="1" stroke-linejoin="round" />
<polygon points="266.0,500.9 269.1,499.9 272.2,504.0 270.1,508.1 266.0,510.2 264.4,506.1" fill="#c0c0c0" stroke="#000" stroke-width="1" stroke-linejoin="round" />
<polyline points="502.0,39.0 500.0,45.0 495.0,48.0 494.0,56.0 496.0,62.0 493.0,68.0 490.0,73.0 485.0,76.0 481.0,79.0 479.0,85.0 474.0,91.0 471.0,96.0 468.0,100.0 462.0,102.0 461.0,108.0 462.0,115.0 457.0,122.0 453.0,128.0 449.0,132.0 445.0,136.0 441.0,140.0 436.0,143.0 432.0,147.0 429.0,152.0 425.0,156.0 421.0,159.0 416.0,163.0 412.0,167.0" fill="none" stroke="#000" stroke-width="3" stroke-linejoin="round"/>
<polyline points="412.0,169.0 410.0,170.0 402.0,173.0 394.0,174.0 386.0,176.0 381.0,177.0 378.0,179.0 375.0,184.0 371.0,186.6 367.6,185.0 366.0,179.0 364.8,173.0 362.4,167.0 359.2,167.0 358.4,173.0 360.0,177.0 359.2,181.4 357.0,186.0 354.0,183.0 349.0,179.0 350.0,182.0 352.0,187.0 348.0,189.0 345.0,193.0 340.0,191.0 334.0,193.0 328.0,194.0 323.0,197.0 316.0,199.0 311.0,202.0 307.0,201.0" fill="none" stroke="#000" stroke-width="2" stroke-linejoin="round"/>
<polyline points="266.0,197.0 266.0,197.0 260.0,200.0 255.0,206.0 243.0,206.0 242.0,212.0" fill="none" stroke="#000" stroke-width="3" stroke-linejoin="round"/>
<polyline points="224.0,165.0 224.0,169.0 231.0,172.0 241.0,174.6 244.0,181.0 242.6,186.0 249.0,191.0 257.0,195.0 266.0,197.0" fill="none" stroke="#000" stroke-width="1" stroke-linejoin="round"/>
<polyline points="213.0,166.0 213.0,169.0 211.0,173.0 205.0,176.0 199.0,178.0 193.0,175.0 187.0,174.0 181.0,180.0 173.0,175.0 168.0,181.0 159.0,180.0 157.0,187.0 160.0,203.0 151.0,202.0 149.0,194.0 143.0,197.0 133.0,198.0 129.0,189.0 117.0,186.0 120.0,177.0 122.0,169.0 121.0,165.0" fill="none" stroke="#000" stroke-width="1" stroke-linejoin="round"/>
<polyline points="168.0,181.0 175.0,191.0 180.0,195.0 180.0,203.0 185.0,210.0 193.0,212.0 199.0,208.0 207.0,214.0 205.0,217.0 214.0,223.0 211.0,229.0 200.0,232.0 197.0,238.0 207.0,243.0 217.0,249.0 220.0,256.0 229.0,263.0 236.0,273.0 242.0,280.0 244.0,287.0 253.0,293.0 257.0,299.0 255.0,302.0" fill="none" stroke="#000" stroke-width="1" stroke-linejoin="round"/>
<polyline points="143.0,197.0 141.0,206.0 134.0,211.0 133.0,218.0 139.0,223.0 138.0,232.0 144.0,234.0 152.0,233.0 153.0,243.0 149.0,251.0 150.0,260.0 146.0,268.0 150.0,270.0 165.0,258.0 175.0,264.0 181.0,261.0 186.0,253.0 199.0,256.0 205.0,265.0 211.0,271.0 210.0,283.0 215.0,291.0 222.0,296.0 226.0,302.0" fill="none" stroke="#000" stroke-width="1" stroke-linejoin="round"/>
<polyline points="133.0,218.0 127.0,218.0 121.0,222.0 113.0,224.0 111.0,226.0" fill="none" stroke="#000" stroke-width="1" stroke-linejoin="round"/>
<polyline points="226.0,302.0 223.0,308.0 224.0,318.0 220.0,327.0" fill="none" stroke="#000" stroke-width="1" stroke-linejoin="round"/>
<polyline points="255.0,302.0 260.0,305.0 259.0,310.0 255.0,318.0 251.0,322.0 243.0,322.0 236.0,323.0 231.0,330.0 229.0,326.0 225.0,328.0 220.0,327.0 217.0,323.0 211.0,323.6 201.0,324.4 191.0,324.4 181.0,326.0 175.0,334.0 170.0,339.0 171.0,348.0 175.0,356.0 177.0,363.0" fill="none" stroke="#000" stroke-width="1" stroke-linejoin="round"/>
<polyline points="255.0,318.0 258.0,328.0 260.0,340.0 258.0,350.0 256.0,359.0 249.0,362.0 241.0,367.0 233.0,371.0 229.0,374.0 231.0,380.0 235.0,386.0 231.0,384.0 225.0,384.0 220.0,386.0 217.0,390.0 211.0,392.0 205.0,395.0" fill="none" stroke="#000" stroke-width="1" stroke-linejoin="round"/>
<polyline points="113.0,331.0 117.0,332.0 116.0,342.0 120.0,356.0 125.0,370.0 119.0,380.0 113.0,385.0" fill="none" stroke="#000" stroke-width="1" stroke-linejoin="round"/>
<polyline points="230.0,315.0 231.0,330.0 231.0,342.0 233.0,352.0 232.0,360.0" fill="none" stroke="#000" stroke-width="1" stroke-linejoin="round"/>
<polyline points="211.0,367.0 215.0,374.0 219.0,382.0 223.0,390.0 231.0,400.0 239.0,406.0" fill="none" stroke="#000" stroke-width="1" stroke-linejoin="round"/>
<polyline points="219.0,382.0 227.0,391.0 235.0,398.0 241.0,403.0" fill="none" stroke="#000" stroke-width="1" stroke-linejoin="round"/>
<polyline points="133.7,457.7 138.8,460.8 144.0,461.8 149.1,465.9 148.1,473.1 153.2,472.1 159.4,471.1 162.5,468.0 165.6,465.9" fill="none" stroke="#000" stroke-width="1" stroke-linejoin="round"/>
<polyline points="290.7,538.0 294.8,544.2 300.0,549.3 304.1,553.5 309.3,555.5 317.5,553.5 325.7,552.4 334.0,551.4 337.1,545.2 344.3,543.2 350.5,544.2 354.6,547.3 361.8,548.3 369.0,546.2 377.2,544.2 379.3,538.0 381.4,531.8 386.5,525.6 387.5,519.5 391.7,515.3 393.7,507.1 394.8,500.9 397.8,497.8 406.1,496.8 414.3,496.4 420.9,496.4" fill="none" stroke="#000" stroke-width="1" stroke-linejoin="round"/>
<polyline points="421.0,496.4 427.2,496.8 433.4,497.8 437.5,496.8" fill="none" stroke="#000" stroke-width="1" stroke-linejoin="round"/>
<polyline points="371.1,492.7 374.2,497.8 377.2,502.0 380.3,498.9 379.3,490.6" fill="none" stroke="#000" stroke-width="1" stroke-linejoin="round"/>
<polyline points="384.5,486.5 385.5,494.7 389.6,496.8 388.6,489.6" fill="none" stroke="#000" stroke-width="1" stroke-linejoin="round"/>
<polyline points="300.4,163.6 303.0,159.6 307.0,162.0 312.0,163.0 318.0,162.0 323.0,161.6" fill="none" stroke="#000" stroke-width="1" stroke-linejoin="round"/>
<ellipse cx="493.4" cy="177.0" rx="0.7" ry="1.0" fill="#000"/>
<ellipse cx="494.6" cy="188.6" rx="1.0" ry="1.0" fill="#000"/>
<ellipse cx="500.0" cy="210.4" rx="1.0" ry="2.0" fill="#000"/>
<ellipse cx="500.6" cy="218.0" rx="2.0" ry="2.0" fill="#000"/>
<ellipse cx="500.6" cy="244.6" rx="1.8" ry="1.8" fill="#000"/>
<ellipse cx="489.0" cy="242.0" rx="0.8" ry="1.2" fill="#000"/>
<ellipse cx="533.0" cy="146.0" rx="3.2" ry="2.4" fill="#000"/>
<ellipse cx="539.4" cy="145.0" rx="2.0" ry="2.4" fill="#000"/>
<ellipse cx="557.0" cy="138.0" rx="2.4" ry="2.2" fill="#000"/>
<ellipse cx="548.0" cy="139.4" rx="0.8" ry="1.0" fill="#000"/>
<ellipse cx="519.0" cy="144.0" rx="1.0" ry="1.0" fill="#000"/>
<ellipse cx="461.0" cy="160.0" rx="2.0" ry="2.6" fill="#000"/>
<ellipse cx="477.0" cy="108.0" rx="0.8" ry="0.8" fill="#000"/>
<ellipse cx="504.0" cy="122.0" rx="0.7" ry="0.7" fill="#000"/>
<ellipse cx="451.0" cy="47.0" rx="2.0" ry="0.8" fill="#000"/>
<ellipse cx="530.0" cy="148.0" rx="1.6" ry="1.6" fill="#000"/>
<ellipse cx="619.6" cy="81.6" rx="1.2" ry="1.2" fill="#000"/>
<ellipse cx="613.0" cy="88.4" rx="1.6" ry="1.0" fill="#000"/>
<ellipse cx="604.0" cy="95.4" rx="1.2" ry="0.8" fill="#000"/>
<ellipse cx="584.0" cy="108.0" rx="1.6" ry="1.0" fill="#000"/>
<ellipse cx="607.6" cy="79.6" rx="0.7" ry="0.7" fill="#000"/>
<ellipse cx="624.0" cy="55.0" rx="0.7" ry="0.7" fill="#000"/>
<ellipse cx="368.4" cy="183.0" rx="2.0" ry="1.8" fill="#000"/>
<ellipse cx="371.6" cy="185.0" rx="1.2" ry="1.0" fill="#000"/>
<ellipse cx="365.4" cy="186.0" rx="1.0" ry="0.8" fill="#000"/>
<ellipse cx="361.6" cy="179.0" rx="0.7" ry="1.6" fill="#000"/>
<ellipse cx="402.0" cy="40.4" rx="2.0" ry="1.4" fill="#000"/>
<ellipse cx="403.0" cy="48.4" rx="1.0" ry="0.7" fill="#000"/>
<ellipse cx="407.6" cy="55.6" rx="1.0" ry="0.8" fill="#000"/>
<ellipse cx="396.0" cy="41.0" rx="0.8" ry="0.7" fill="#000"/>
<ellipse cx="232.5" cy="517.4" rx="6.2" ry="4.1" fill="#000"/>
<ellipse cx="226.4" cy="519.5" rx="2.5" ry="2.1" fill="#000"/>
<ellipse cx="235.6" cy="523.6" rx="1.2" ry="1.2" fill="#000"/>
<ellipse cx="264.5" cy="490.6" rx="0.8" ry="0.8" fill="#000"/>
<ellipse cx="265.5" cy="505.0" rx="0.8" ry="2.1" fill="#000"/>
<ellipse cx="255.2" cy="553.5" rx="1.6" ry="1.0" fill="#000"/>
<ellipse cx="200.6" cy="523.6" rx="1.0" ry="1.2" fill="#000"/>
<ellipse cx="206.8" cy="527.7" rx="0.8" ry="1.0" fill="#000"/>
<ellipse cx="176.9" cy="469.0" rx="0.8" ry="0.8" fill="#000"/>
<ellipse cx="181.0" cy="472.1" rx="0.7" ry="0.8" fill="#000"/>
<ellipse cx="193.4" cy="552.4" rx="5.2" ry="2.9" fill="#000"/>
<ellipse cx="199.6" cy="558.6" rx="6.2" ry="3.7" fill="#000"/>
<ellipse cx="203.7" cy="564.8" rx="5.2" ry="3.1" fill="#000"/>
<ellipse cx="207.8" cy="554.5" rx="2.5" ry="2.1" fill="#000"/>
<ellipse cx="190.3" cy="547.3" rx="2.5" ry="1.4" fill="#000"/>
<ellipse cx="183.1" cy="562.7" rx="5.2" ry="1.2" fill="#000"/>
<ellipse cx="196.5" cy="547.9" rx="2.1" ry="1.2" fill="#000"/>
<ellipse cx="322.0" cy="527.1" rx="1.6" ry="3.7" fill="#000"/>
<ellipse cx="387.5" cy="480.3" rx="2.5" ry="1.4" fill="#000"/>
<ellipse cx="419.5" cy="509.2" rx="1.6" ry="0.8" fill="#000"/>
<ellipse cx="279.4" cy="520.5" rx="1.0" ry="1.6" fill="#000"/>
<ellipse cx="283.5" cy="527.7" rx="1.2" ry="0.8" fill="#000"/>
<ellipse cx="278.4" cy="557.6" rx="1.2" ry="1.0" fill="#000"/>
<ellipse cx="418.5" cy="447.8" rx="2.1" ry="1.6" fill="#000"/>
<ellipse cx="392.7" cy="473.1" rx="0.8" ry="0.7" fill="#000"/>
<ellipse cx="276.3" cy="525.6" rx="0.7" ry="1.6" fill="#000"/>
<ellipse cx="489.0" cy="469.0" rx="2.5" ry="1.6" fill="#000"/>
<ellipse cx="482.8" cy="475.2" rx="2.1" ry="1.6" fill="#000"/>
<ellipse cx="476.6" cy="465.9" rx="1.6" ry="2.1" fill="#000"/>
<ellipse cx="469.4" cy="482.4" rx="2.5" ry="1.6" fill="#000"/>
<ellipse cx="500.3" cy="465.9" rx="1.6" ry="1.2" fill="#000"/>
<ellipse cx="494.1" cy="468.0" rx="1.6" ry="1.2" fill="#000"/>
<ellipse cx="472.5" cy="479.3" rx="1.2" ry="1.6" fill="#000"/>
<ellipse cx="465.3" cy="471.1" rx="1.2" ry="1.0" fill="#000"/>
<ellipse cx="459.1" cy="489.6" rx="0.8" ry="1.2" fill="#000"/>
<ellipse cx="562.1" cy="509.2" rx="1.9" ry="2.9" fill="#000"/>
<ellipse cx="560.1" cy="523.6" rx="0.8" ry="1.6" fill="#000"/>
<ellipse cx="559.0" cy="530.8" rx="0.8" ry="0.8" fill="#000"/>
<ellipse cx="558.6" cy="534.9" rx="0.8" ry="0.8" fill="#000"/>
<ellipse cx="443.7" cy="532.9" rx="1.2" ry="1.6" fill="#000"/>
<ellipse cx="430.9" cy="534.9" rx="1.2" ry="1.6" fill="#000"/>
<ellipse cx="427.2" cy="509.2" rx="4.1" ry="2.9" fill="#000"/>
<ellipse cx="424.1" cy="503.0" rx="2.9" ry="1.6" fill="#000"/>
<ellipse cx="433.4" cy="471.1" rx="2.9" ry="1.2" fill="#000"/>
<ellipse cx="517.8" cy="443.2" rx="1.6" ry="1.6" fill="#000"/>
<ellipse cx="524.0" cy="443.2" rx="1.2" ry="1.2" fill="#000"/>
<ellipse cx="552.8" cy="541.1" rx="2.9" ry="1.6" fill="#000"/>
<ellipse cx="493.1" cy="455.6" rx="1.0" ry="0.8" fill="#000"/>
<ellipse cx="480.7" cy="462.8" rx="1.0" ry="1.0" fill="#000"/>
<ellipse cx="582.8" cy="500.9" rx="1.2" ry="6.2" fill="#000"/>
<ellipse cx="561.8" cy="509.6" rx="1.6" ry="2.9" fill="#000"/>
<ellipse cx="588.6" cy="490.6" rx="1.0" ry="1.2" fill="#000"/>
<ellipse cx="559.7" cy="524.0" rx="0.8" ry="1.6" fill="#000"/>
<ellipse cx="559.3" cy="531.8" rx="0.8" ry="1.6" fill="#000"/>
<ellipse cx="565.9" cy="448.4" rx="1.2" ry="2.1" fill="#000"/>
<ellipse cx="559.7" cy="478.3" rx="1.0" ry="0.8" fill="#000"/>
<ellipse cx="579.3" cy="476.2" rx="0.7" ry="0.7" fill="#000"/>
<ellipse cx="576.2" cy="547.3" rx="0.7" ry="0.7" fill="#000"/>
<ellipse cx="572.1" cy="554.1" rx="0.7" ry="0.7" fill="#000"/>
<ellipse cx="596.8" cy="542.1" rx="0.8" ry="6.2" fill="#000"/>
<ellipse cx="593.1" cy="558.6" rx="1.0" ry="4.1" fill="#000"/>
<ellipse cx="467.4" cy="362.0" rx="1.0" ry="1.6" fill="#000"/>
<ellipse cx="471.4" cy="366.4" rx="1.0" ry="1.0" fill="#000"/>
<ellipse cx="473.4" cy="361.6" rx="0.8" ry="0.8" fill="#000"/>
<ellipse cx="462.0" cy="378.0" rx="0.8" ry="1.0" fill="#000"/>
<ellipse cx="458.6" cy="384.4" rx="0.8" ry="0.8" fill="#000"/>
<ellipse cx="464.0" cy="390.0" rx="0.8" ry="0.8" fill="#000"/>
<ellipse cx="481.0" cy="378.0" rx="0.7" ry="0.8" fill="#000"/>
<ellipse cx="485.0" cy="380.0" rx="0.7" ry="0.7" fill="#000"/>
<ellipse cx="487.0" cy="384.0" rx="0.7" ry="0.7" fill="#000"/>
<ellipse cx="501.0" cy="317.0" rx="1.2" ry="2.8" fill="#000"/>
<ellipse cx="503.0" cy="330.0" rx="1.0" ry="1.6" fill="#000"/>
<ellipse cx="472.0" cy="317.0" rx="1.0" ry="1.0" fill="#000"/>
<ellipse cx="513.0" cy="342.0" rx="0.8" ry="2.8" fill="#000"/>
<ellipse cx="503.0" cy="358.0" rx="0.7" ry="2.8" fill="#000"/>
<ellipse cx="530.0" cy="357.0" rx="1.0" ry="2.0" fill="#000"/>
<ellipse cx="533.0" cy="360.0" rx="1.0" ry="1.6" fill="#000"/>
<ellipse cx="541.0" cy="372.0" rx="1.0" ry="1.0" fill="#000"/>
<ellipse cx="549.0" cy="372.0" rx="2.0" ry="2.0" fill="#000"/>
<ellipse cx="565.0" cy="386.0" rx="0.8" ry="1.2" fill="#000"/>
<ellipse cx="563.0" cy="396.0" rx="1.2" ry="2.8" fill="#000"/>
<ellipse cx="570.0" cy="404.0" rx="0.8" ry="2.8" fill="#000"/>
<ellipse cx="547.0" cy="414.0" rx="0.8" ry="0.8" fill="#000"/>
<ellipse cx="529.0" cy="414.0" rx="1.0" ry="0.8" fill="#000"/>
<ellipse cx="531.0" cy="380.0" rx="0.8" ry="2.0" fill="#000"/>
<ellipse cx="543.0" cy="389.0" rx="0.8" ry="0.8" fill="#000"/>
<ellipse cx="496.0" cy="373.0" rx="0.7" ry="0.7" fill="#000"/>
<ellipse cx="282.0" cy="392.0" rx="0.7" ry="0.7" fill="#000"/>
<ellipse cx="242.0" cy="423.0" rx="1.6" ry="0.8" fill="#000"/>
<ellipse cx="205.0" cy="406.0" rx="0.7" ry="0.7" fill="#000"/>
<ellipse cx="189.0" cy="412.0" rx="1.2" ry="0.7" fill="#000"/>
<ellipse cx="627.4" cy="71" rx="6.5" ry="1.9" fill="#000" transform="rotate(-35 627.4 71)"/>
<ellipse cx="624" cy="74" rx="2.5" ry="1.5" fill="#000" transform="rotate(-35 624 74)"/>
<ellipse cx="601.5" cy="105.5" rx="10" ry="1.9" fill="#000" transform="rotate(-33 601.5 105.5)"/>
<ellipse cx="597" cy="111.5" rx="5.5" ry="1.5" fill="#000" transform="rotate(-15 597 111.5)"/>
<ellipse cx="606" cy="101" rx="2.5" ry="2.2" fill="#000" transform="rotate(0 606 101)"/>
<ellipse cx="592" cy="112" rx="2" ry="1.2" fill="#000" transform="rotate(0 592 112)"/>
<ellipse cx="628.5" cy="70.5" rx="1.6" ry="0.8" fill="#d8d8d8" transform="rotate(-35 628.5 70.5)"/>
<ellipse cx="604" cy="104" rx="1.8" ry="0.8" fill="#d8d8d8" transform="rotate(-33 604 104)"/>
<rect x="504" y="41" width="1" height="2" fill="#000"/>
<rect x="503" y="40" width="1" height="2" fill="#000"/>
<rect x="503" y="40" width="3" height="1" fill="#000"/>
<rect x="504" y="44" width="2" height="2" fill="#000"/>
<rect x="496" y="48" width="1" height="1" fill="#000"/>
<rect x="496" y="48" width="2" height="2" fill="#000"/>
<rect x="497" y="46" width="1" height="1" fill="#000"/>
<rect x="498" y="47" width="2" height="2" fill="#000"/>
<rect x="496" y="55" width="1" height="2" fill="#000"/>
<rect x="497" y="55" width="1" height="3" fill="#000"/>
<rect x="497" y="52" width="1" height="2" fill="#000"/>
<rect x="497" y="54" width="2" height="3" fill="#000"/>
<rect x="496" y="54" width="2" height="2" fill="#000"/>
<rect x="495" y="60" width="2" height="2" fill="#000"/>
<rect x="497" y="58" width="1" height="2" fill="#000"/>
<rect x="495" y="63" width="2" height="1" fill="#000"/>
<rect x="497" y="66" width="1" height="2" fill="#000"/>
<rect x="496" y="69" width="3" height="1" fill="#000"/>
<rect x="498" y="66" width="3" height="1" fill="#000"/>
<rect x="496" y="64" width="2" height="2" fill="#000"/>
<rect x="494" y="69" width="1" height="2" fill="#000"/>
<rect x="493" y="72" width="2" height="1" fill="#000"/>
<rect x="488" y="74" width="2" height="1" fill="#000"/>
<rect x="484" y="77" width="1" height="1" fill="#000"/>
<rect x="484" y="76" width="1" height="1" fill="#000"/>
<rect x="485" y="77" width="1" height="1" fill="#000"/>
<rect x="483" y="85" width="2" height="2" fill="#000"/>
<rect x="482" y="80" width="1" height="3" fill="#000"/>
<rect x="484" y="80" width="2" height="1" fill="#000"/>
<rect x="482" y="80" width="3" height="3" fill="#000"/>
<rect x="481" y="81" width="1" height="3" fill="#000"/>
<rect x="476" y="90" width="1" height="3" fill="#000"/>
<rect x="479" y="87" width="1" height="1" fill="#000"/>
<rect x="474" y="93" width="2" height="3" fill="#000"/>
<rect x="474" y="97" width="3" height="1" fill="#000"/>
<rect x="474" y="92" width="1" height="2" fill="#000"/>
<rect x="471" y="100" width="1" height="2" fill="#000"/>
<rect x="468" y="103" width="1" height="3" fill="#000"/>
<rect x="467" y="104" width="2" height="1" fill="#000"/>
<rect x="468" y="103" width="3" height="1" fill="#000"/>
<rect x="463" y="104" width="1" height="1" fill="#000"/>
<rect x="465" y="106" width="2" height="3" fill="#000"/>
<rect x="462" y="110" width="1" height="2" fill="#000"/>
<rect x="461" y="111" width="3" height="1" fill="#000"/>
<rect x="465" y="112" width="2" height="3" fill="#000"/>
<rect x="463" y="111" width="1" height="2" fill="#000"/>
<rect x="464" y="117" width="1" height="2" fill="#000"/>
<rect x="460" y="119" width="2" height="2" fill="#000"/>
<rect x="460" y="119" width="1" height="3" fill="#000"/>
<rect x="461" y="120" width="3" height="2" fill="#000"/>
<rect x="461" y="119" width="2" height="2" fill="#000"/>
<rect x="458" y="127" width="2" height="3" fill="#000"/>
<rect x="457" y="127" width="3" height="1" fill="#000"/>
<rect x="455" y="125" width="1" height="1" fill="#000"/>
<rect x="456" y="128" width="1" height="2" fill="#000"/>
<rect x="455" y="131" width="3" height="1" fill="#000"/>
<rect x="453" y="132" width="3" height="1" fill="#000"/>
<rect x="452" y="131" width="1" height="1" fill="#000"/>
<rect x="450" y="133" width="2" height="1" fill="#000"/>
<rect x="448" y="136" width="1" height="3" fill="#000"/>
<rect x="444" y="137" width="3" height="1" fill="#000"/>
<rect x="446" y="140" width="3" height="1" fill="#000"/>
<rect x="443" y="141" width="2" height="1" fill="#000"/>
<rect x="443" y="140" width="1" height="3" fill="#000"/>
<rect x="437" y="142" width="3" height="1" fill="#000"/>
<rect x="440" y="142" width="3" height="1" fill="#000"/>
<rect x="439" y="142" width="1" height="1" fill="#000"/>
<rect x="436" y="144" width="1" height="2" fill="#000"/>
<rect x="434" y="145" width="1" height="1" fill="#000"/>
<rect x="438" y="145" width="2" height="1" fill="#000"/>
<rect x="432" y="147" width="3" height="2" fill="#000"/>
<rect x="430" y="152" width="2" height="2" fill="#000"/>
<rect x="431" y="152" width="2" height="2" fill="#000"/>
<rect x="432" y="147" width="1" height="2" fill="#000"/>
<rect x="428" y="153" width="3" height="3" fill="#000"/>
<rect x="428" y="153" width="1" height="2" fill="#000"/>
<rect x="428" y="154" width="3" height="3" fill="#000"/>
<rect x="430" y="155" width="1" height="1" fill="#000"/>
<rect x="424" y="158" width="2" height="1" fill="#000"/>
<rect x="425" y="156" width="1" height="2" fill="#000"/>
<rect x="425" y="157" width="1" height="2" fill="#000"/>
<rect x="423" y="160" width="2" height="3" fill="#000"/>
<rect x="422" y="163" width="1" height="2" fill="#000"/>
<rect x="423" y="161" width="3" height="2" fill="#000"/>
<rect x="417" y="162" width="2" height="2" fill="#000"/>
<rect x="414" y="168" width="2" height="1" fill="#000"/>
<rect x="416" y="164" width="1" height="3" fill="#000"/>
<rect x="415" y="167" width="2" height="2" fill="#000"/>
<rect x="411" y="171" width="2" height="2" fill="#000"/>
<rect x="404" y="172" width="1" height="1" fill="#000"/>
<rect x="405" y="174" width="1" height="1" fill="#000"/>
<rect x="401" y="173" width="2" height="1" fill="#000"/>
<rect x="402" y="173" width="2" height="2" fill="#000"/>
<rect x="390" y="176" width="1" height="1" fill="#000"/>
<rect x="387" y="178" width="1" height="1" fill="#000"/>
<rect x="392" y="175" width="2" height="1" fill="#000"/>
<rect x="384" y="178" width="1" height="2" fill="#000"/>
<rect x="379" y="179" width="1" height="1" fill="#000"/>
<rect x="378" y="180" width="1" height="2" fill="#000"/>
<rect x="377" y="184" width="1" height="2" fill="#000"/>
<rect x="374" y="185" width="2" height="2" fill="#000"/>
<rect x="373" y="185" width="1" height="1" fill="#000"/>
<rect x="368" y="185" width="1" height="2" fill="#000"/>
<rect x="369" y="188" width="2" height="2" fill="#000"/>
<rect x="366" y="181" width="2" height="2" fill="#000"/>
<rect x="364" y="179" width="1" height="1" fill="#000"/>
<rect x="364" y="177" width="2" height="1" fill="#000"/>
<rect x="365" y="176" width="1" height="1" fill="#000"/>
<rect x="364" y="174" width="1" height="2" fill="#000"/>
<rect x="364" y="172" width="1" height="1" fill="#000"/>
<rect x="364" y="172" width="2" height="2" fill="#000"/>
<rect x="363" y="171" width="1" height="1" fill="#000"/>
<rect x="362" y="169" width="1" height="2" fill="#000"/>
<rect x="359" y="169" width="1" height="1" fill="#000"/>
<rect x="360" y="167" width="2" height="1" fill="#000"/>
<rect x="361" y="174" width="2" height="2" fill="#000"/>
<rect x="360" y="177" width="2" height="2" fill="#000"/>
<rect x="355" y="184" width="2" height="2" fill="#000"/>
<rect x="357" y="186" width="2" height="2" fill="#000"/>
<rect x="356" y="186" width="2" height="1" fill="#000"/>
<rect x="351" y="180" width="1" height="1" fill="#000"/>
<rect x="351" y="179" width="2" height="1" fill="#000"/>
<rect x="351" y="180" width="1" height="1" fill="#000"/>
<rect x="350" y="182" width="1" height="2" fill="#000"/>
<rect x="353" y="185" width="2" height="1" fill="#000"/>
<rect x="349" y="189" width="1" height="2" fill="#000"/>
<rect x="349" y="190" width="1" height="1" fill="#000"/>
<rect x="350" y="190" width="1" height="1" fill="#000"/>
<rect x="345" y="193" width="1" height="1" fill="#000"/>
<rect x="347" y="194" width="2" height="2" fill="#000"/>
<rect x="349" y="191" width="2" height="1" fill="#000"/>
<rect x="343" y="193" width="1" height="1" fill="#000"/>
<rect x="343" y="194" width="1" height="2" fill="#000"/>
<rect x="343" y="194" width="2" height="1" fill="#000"/>
<rect x="337" y="192" width="2" height="1" fill="#000"/>
<rect x="334" y="192" width="1" height="2" fill="#000"/>
<rect x="340" y="191" width="2" height="1" fill="#000"/>
<rect x="333" y="195" width="2" height="1" fill="#000"/>
<rect x="332" y="193" width="2" height="2" fill="#000"/>
<rect x="327" y="195" width="2" height="2" fill="#000"/>
<rect x="327" y="195" width="1" height="2" fill="#000"/>
<rect x="325" y="198" width="2" height="2" fill="#000"/>
<rect x="321" y="198" width="2" height="1" fill="#000"/>
<rect x="318" y="199" width="1" height="1" fill="#000"/>
<rect x="317" y="201" width="2" height="1" fill="#000"/>
<rect x="316" y="200" width="2" height="1" fill="#000"/>
<rect x="314" y="201" width="2" height="2" fill="#000"/>
<rect x="308" y="201" width="2" height="1" fill="#000"/>
<rect x="310" y="202" width="1" height="2" fill="#000"/>
<rect x="305" y="211" width="2" height="1" fill="#000"/>
<rect x="306" y="217" width="1" height="2" fill="#000"/>
<rect x="297" y="215" width="1" height="1" fill="#000"/>
<rect x="298" y="217" width="1" height="2" fill="#000"/>
<rect x="296" y="212" width="2" height="1" fill="#000"/>
<rect x="295" y="208" width="1" height="1" fill="#000"/>
<rect x="296" y="206" width="1" height="1" fill="#000"/>
<rect x="289" y="198" width="1" height="2" fill="#000"/>
<rect x="288" y="200" width="2" height="2" fill="#000"/>
<rect x="280" y="196" width="1" height="1" fill="#000"/>
<rect x="276" y="194" width="2" height="1" fill="#000"/>
<rect x="274" y="193" width="1" height="1" fill="#000"/>
<rect x="261" y="200" width="2" height="3" fill="#000"/>
<rect x="265" y="198" width="2" height="1" fill="#000"/>
<rect x="265" y="200" width="3" height="1" fill="#000"/>
<rect x="261" y="199" width="3" height="1" fill="#000"/>
<rect x="259" y="204" width="1" height="2" fill="#000"/>
<rect x="259" y="204" width="2" height="2" fill="#000"/>
<rect x="258" y="204" width="1" height="2" fill="#000"/>
<rect x="258" y="203" width="2" height="1" fill="#000"/>
<rect x="258" y="202" width="2" height="2" fill="#000"/>
<rect x="257" y="204" width="2" height="3" fill="#000"/>
<rect x="254" y="207" width="1" height="3" fill="#000"/>
<rect x="245" y="209" width="2" height="3" fill="#000"/>
<rect x="243" y="207" width="3" height="3" fill="#000"/>
<rect x="246" y="209" width="1" height="1" fill="#000"/>
<rect x="253" y="209" width="1" height="3" fill="#000"/>
<rect x="249" y="209" width="1" height="1" fill="#000"/>
<rect x="251" y="206" width="1" height="1" fill="#000"/>
<rect x="244" y="206" width="3" height="1" fill="#000"/>
<rect x="243" y="210" width="3" height="2" fill="#000"/>
<rect x="242" y="211" width="3" height="2" fill="#000"/>
<rect x="243" y="211" width="3" height="2" fill="#000"/>
<rect x="243" y="211" width="1" height="2" fill="#000"/>
<rect x="243" y="211" width="2" height="3" fill="#000"/>
<rect x="541" y="331" width="2" height="1" fill="#000"/>
<rect x="542" y="336" width="1" height="1" fill="#000"/>
<rect x="541" y="336" width="2" height="2" fill="#000"/>
<rect x="538" y="339" width="1" height="2" fill="#000"/>
<rect x="540" y="338" width="2" height="2" fill="#000"/>
<rect x="537" y="332" width="1" height="2" fill="#000"/>
<rect x="480" y="340" width="1" height="1" fill="#000"/>
<rect x="475" y="340" width="1" height="1" fill="#000"/>
<rect x="482" y="339" width="1" height="2" fill="#000"/>
<rect x="482" y="340" width="1" height="2" fill="#000"/>
<rect x="489" y="341" width="1" height="2" fill="#000"/>
<rect x="489" y="343" width="1" height="1" fill="#000"/>
<rect x="491" y="361" width="1" height="1" fill="#000"/>
<rect x="485" y="360" width="2" height="2" fill="#000"/>
<rect x="481" y="348" width="2" height="1" fill="#000"/>
<rect x="480" y="351" width="1" height="1" fill="#000"/>
<rect x="481" y="351" width="2" height="2" fill="#000"/>
<rect x="478" y="345" width="2" height="2" fill="#000"/>
<rect x="474" y="342" width="2" height="1" fill="#000"/>
<rect x="477" y="343" width="2" height="2" fill="#000"/>
<rect x="504" y="340" width="1" height="1" fill="#000"/>
<rect x="503" y="343" width="2" height="1" fill="#000"/>
<rect x="511" y="358" width="2" height="1" fill="#000"/>
<rect x="513" y="360" width="2" height="1" fill="#000"/>
<rect x="514" y="358" width="2" height="1" fill="#000"/>
<rect x="510" y="360" width="2" height="1" fill="#000"/>
<rect x="526" y="357" width="1" height="2" fill="#000"/>
<rect x="526" y="356" width="2" height="2" fill="#000"/>
<rect x="533" y="363" width="1" height="1" fill="#000"/>
<rect x="535" y="365" width="2" height="2" fill="#000"/>
<rect x="536" y="369" width="2" height="1" fill="#000"/>
<rect x="530" y="366" width="1" height="1" fill="#000"/>
<rect x="528" y="363" width="1" height="1" fill="#000"/>
<rect x="528" y="363" width="2" height="2" fill="#000"/>
<rect x="524" y="361" width="1" height="2" fill="#000"/>
<rect x="524" y="359" width="1" height="1" fill="#000"/>
<rect x="503" y="369" width="2" height="1" fill="#000"/>
<rect x="508" y="372" width="2" height="2" fill="#000"/>
<rect x="514" y="373" width="2" height="2" fill="#000"/>
<rect x="520" y="374" width="2" height="2" fill="#000"/>
<rect x="518" y="383" width="1" height="1" fill="#000"/>
<rect x="518" y="382" width="2" height="2" fill="#000"/>
<rect x="514" y="385" width="2" height="1" fill="#000"/>
<rect x="507" y="389" width="2" height="1" fill="#000"/>
<rect x="505" y="390" width="1" height="1" fill="#000"/>
<rect x="500" y="390" width="1" height="1" fill="#000"/>
<rect x="500" y="388" width="2" height="2" fill="#000"/>
<rect x="504" y="379" width="2" height="2" fill="#000"/>
<rect x="504" y="375" width="2" height="1" fill="#000"/>
<rect x="504" y="374" width="1" height="1" fill="#000"/>
<rect x="517" y="393" width="2" height="1" fill="#000"/>
<rect x="516" y="397" width="2" height="1" fill="#000"/>
<rect x="519" y="392" width="2" height="1" fill="#000"/>
<rect x="519" y="388" width="1" height="2" fill="#000"/>
<rect x="524" y="383" width="2" height="1" fill="#000"/>
<rect x="527" y="386" width="1" height="1" fill="#000"/>
<rect x="527" y="388" width="1" height="2" fill="#000"/>
<rect x="527" y="389" width="2" height="2" fill="#000"/>
<rect x="526" y="398" width="1" height="2" fill="#000"/>
<rect x="523" y="409" width="1" height="2" fill="#000"/>
<rect x="523" y="411" width="1" height="2" fill="#000"/>
<rect x="511" y="409" width="1" height="1" fill="#000"/>
<rect x="509" y="406" width="2" height="2" fill="#000"/>
<rect x="509" y="406" width="2" height="1" fill="#000"/>
<rect x="508" y="404" width="2" height="2" fill="#000"/>
<rect x="531" y="399" width="1" height="2" fill="#000"/>
<rect x="528" y="403" width="2" height="2" fill="#000"/>
<rect x="528" y="405" width="1" height="1" fill="#000"/>
<rect x="528" y="406" width="2" height="1" fill="#000"/>
<rect x="526" y="407" width="1" height="2" fill="#000"/>
<rect x="526" y="407" width="2" height="2" fill="#000"/>
<rect x="526" y="407" width="1" height="2" fill="#000"/>
<rect x="526" y="411" width="2" height="1" fill="#000"/>
<rect x="524" y="407" width="1" height="1" fill="#000"/>
<rect x="528" y="403" width="2" height="2" fill="#000"/>
<rect x="533" y="403" width="2" height="1" fill="#000"/>
<rect x="537" y="389" width="2" height="2" fill="#000"/>
<rect x="537" y="383" width="2" height="2" fill="#000"/>
<rect x="540" y="397" width="1" height="2" fill="#000"/>
<rect x="544" y="399" width="1" height="1" fill="#000"/>
<rect x="544" y="407" width="1" height="2" fill="#000"/>
<rect x="542" y="406" width="2" height="1" fill="#000"/>
<rect x="533" y="406" width="1" height="1" fill="#000"/>
<rect x="544" y="357" width="1" height="1" fill="#000"/>
<rect x="546" y="356" width="1" height="2" fill="#000"/>
<rect x="553" y="356" width="1" height="1" fill="#000"/>
<rect x="561" y="362" width="1" height="2" fill="#000"/>
<rect x="562" y="373" width="1" height="1" fill="#000"/>
<rect x="561" y="381" width="2" height="2" fill="#000"/>
<rect x="563" y="380" width="2" height="2" fill="#000"/>
<rect x="556" y="378" width="1" height="1" fill="#000"/>
<rect x="557" y="378" width="2" height="1" fill="#000"/>
<rect x="554" y="376" width="1" height="2" fill="#000"/>
<rect x="555" y="374" width="2" height="2" fill="#000"/>
<rect x="549" y="365" width="2" height="1" fill="#000"/>
<rect x="546" y="364" width="1" height="1" fill="#000"/>
<rect x="544" y="362" width="2" height="1" fill="#000"/>
<rect x="541" y="358" width="1" height="1" fill="#000"/>
<rect x="542" y="371" width="2" height="2" fill="#000"/>
<rect x="546" y="372" width="1" height="2" fill="#000"/>
<rect x="547" y="377" width="1" height="1" fill="#000"/>
<rect x="549" y="377" width="1" height="2" fill="#000"/>
<rect x="548" y="377" width="2" height="1" fill="#000"/>
<rect x="547" y="377" width="1" height="1" fill="#000"/>
<rect x="551" y="378" width="2" height="2" fill="#000"/>
<rect x="550" y="378" width="1" height="2" fill="#000"/>
<rect x="553" y="382" width="2" height="2" fill="#000"/>
<rect x="554" y="382" width="2" height="1" fill="#000"/>
<rect x="554" y="387" width="1" height="1" fill="#000"/>
<rect x="554" y="385" width="1" height="1" fill="#000"/>
<rect x="556" y="398" width="1" height="1" fill="#000"/>
<rect x="553" y="398" width="1" height="1" fill="#000"/>
<rect x="552" y="399" width="1" height="1" fill="#000"/>
<rect x="547" y="388" width="1" height="1" fill="#000"/>
<rect x="547" y="385" width="2" height="2" fill="#000"/>
<rect x="546" y="385" width="1" height="2" fill="#000"/>
<rect x="542" y="375" width="2" height="2" fill="#000"/>
<rect x="413" y="437" width="2" height="1" fill="#000"/>
<rect x="417" y="433" width="1" height="1" fill="#000"/>
<rect x="424" y="422" width="2" height="1" fill="#000"/>
<rect x="432" y="412" width="1" height="1" fill="#000"/>
<rect x="436" y="411" width="1" height="1" fill="#000"/>
<rect x="435" y="410" width="2" height="2" fill="#000"/>
<rect x="443" y="402" width="1" height="2" fill="#000"/>
<rect x="445" y="400" width="1" height="2" fill="#000"/>
<rect x="445" y="399" width="1" height="2" fill="#000"/>
<rect x="448" y="396" width="1" height="1" fill="#000"/>
<rect x="452" y="391" width="2" height="1" fill="#000"/>
<rect x="456" y="396" width="2" height="2" fill="#000"/>
<rect x="439" y="415" width="2" height="2" fill="#000"/>
<rect x="436" y="418" width="2" height="2" fill="#000"/>
<rect x="439" y="417" width="1" height="1" fill="#000"/>
<rect x="421" y="433" width="2" height="2" fill="#000"/>
<rect x="468" y="360" width="2" height="1" fill="#000"/>
<rect x="470" y="360" width="2" height="2" fill="#000"/>
<rect x="472" y="362" width="1" height="1" fill="#000"/>
<rect x="473" y="362" width="1" height="2" fill="#000"/>
<rect x="473" y="366" width="1" height="2" fill="#000"/>
<rect x="474" y="365" width="2" height="2" fill="#000"/>
<rect x="471" y="369" width="1" height="2" fill="#000"/>
<rect x="468" y="370" width="1" height="1" fill="#000"/>
<rect x="466" y="366" width="2" height="2" fill="#000"/>
<rect x="466" y="368" width="1" height="2" fill="#000"/>
<rect x="467" y="364" width="2" height="2" fill="#000"/>
<rect x="460" y="377" width="2" height="1" fill="#000"/>
<rect x="462" y="377" width="2" height="1" fill="#000"/>
<rect x="457" y="385" width="1" height="1" fill="#000"/>
<rect x="456" y="382" width="1" height="2" fill="#000"/>
<rect x="502" y="457" width="1" height="1" fill="#000"/>
<rect x="503" y="456" width="1" height="1" fill="#000"/>
<rect x="504" y="456" width="1" height="1" fill="#000"/>
<rect x="506" y="459" width="1" height="1" fill="#000"/>
<rect x="503" y="462" width="1" height="2" fill="#000"/>
<rect x="500" y="458" width="1" height="1" fill="#000"/>
<rect x="500" y="459" width="2" height="2" fill="#000"/>
<rect x="485" y="250" width="1" height="2" fill="#000"/>
<rect x="492" y="252" width="1" height="2" fill="#000"/>
<rect x="493" y="254" width="1" height="1" fill="#000"/>
<rect x="492" y="253" width="1" height="2" fill="#000"/>
<rect x="501" y="256" width="2" height="2" fill="#000"/>
<rect x="506" y="262" width="2" height="1" fill="#000"/>
<rect x="506" y="258" width="1" height="1" fill="#000"/>
<rect x="507" y="259" width="1" height="2" fill="#000"/>
<rect x="509" y="272" width="1" height="1" fill="#000"/>
<rect x="507" y="270" width="2" height="1" fill="#000"/>
<rect x="510" y="276" width="2" height="2" fill="#000"/>
<rect x="511" y="281" width="2" height="2" fill="#000"/>
<rect x="509" y="285" width="1" height="2" fill="#000"/>
<rect x="506" y="289" width="2" height="2" fill="#000"/>
<rect x="502" y="294" width="1" height="1" fill="#000"/>
<rect x="501" y="296" width="1" height="1" fill="#000"/>
<rect x="495" y="301" width="2" height="1" fill="#000"/>
<rect x="493" y="307" width="1" height="1" fill="#000"/>
<rect x="495" y="315" width="1" height="1" fill="#000"/>
<rect x="496" y="313" width="2" height="1" fill="#000"/>
<rect x="496" y="321" width="1" height="1" fill="#000"/>
<rect x="497" y="323" width="2" height="2" fill="#000"/>
<rect x="497" y="323" width="2" height="1" fill="#000"/>
<rect x="514" y="325" width="2" height="2" fill="#000"/>
<rect x="523" y="333" width="1" height="2" fill="#000"/>
<rect x="522" y="331" width="1" height="2" fill="#000"/>
<rect x="526" y="332" width="2" height="1" fill="#000"/>
<rect x="533" y="345" width="2" height="2" fill="#000"/>
<rect x="539" y="352" width="1" height="1" fill="#000"/>
<rect x="533" y="352" width="1" height="1" fill="#000"/>
<rect x="524" y="344" width="1" height="1" fill="#000"/>
<rect x="524" y="342" width="1" height="1" fill="#000"/>
<rect x="521" y="339" width="1" height="1" fill="#000"/>
<rect x="520" y="340" width="1" height="2" fill="#000"/>
<rect x="515" y="335" width="1" height="2" fill="#000"/>
<rect x="511" y="330" width="1" height="1" fill="#000"/>
<rect x="511" y="331" width="1" height="2" fill="#000"/>
<rect x="510" y="343" width="2" height="2" fill="#000"/>
<rect x="511" y="342" width="1" height="2" fill="#000"/>
<rect x="509" y="341" width="1" height="1" fill="#000"/>
<rect x="507" y="337" width="2" height="1" fill="#000"/>
<rect x="500" y="334" width="2" height="2" fill="#000"/>
<rect x="498" y="333" width="1" height="2" fill="#000"/>
<rect x="496" y="334" width="2" height="1" fill="#000"/>
<rect x="490" y="336" width="2" height="1" fill="#000"/>
<rect x="486" y="335" width="1" height="1" fill="#000"/>
<rect x="481" y="333" width="1" height="1" fill="#000"/>
<rect x="483" y="334" width="1" height="1" fill="#000"/>
<rect x="480" y="328" width="2" height="2" fill="#000"/>
<rect x="482" y="319" width="2" height="1" fill="#000"/>
<rect x="480" y="320" width="1" height="1" fill="#000"/>
<rect x="475" y="323" width="2" height="1" fill="#000"/>
<rect x="472" y="319" width="2" height="1" fill="#000"/>
<rect x="469" y="313" width="1" height="1" fill="#000"/>
<rect x="471" y="314" width="2" height="1" fill="#000"/>
<rect x="465" y="297" width="1" height="1" fill="#000"/>
<rect x="469" y="293" width="2" height="1" fill="#000"/>
<rect x="473" y="288" width="2" height="1" fill="#000"/>
<rect x="474" y="287" width="2" height="1" fill="#000"/>
<rect x="476" y="262" width="2" height="2" fill="#000"/>
<rect x="478" y="257" width="1" height="1" fill="#000"/>
<rect x="500" y="448" width="2" height="1" fill="#000"/>
<rect x="502" y="446" width="2" height="1" fill="#000"/>
<rect x="508" y="436" width="2" height="1" fill="#000"/>
<rect x="507" y="436" width="2" height="2" fill="#000"/>
<rect x="533" y="436" width="1" height="2" fill="#000"/>
<rect x="537" y="433" width="1" height="1" fill="#000"/>
<rect x="540" y="430" width="2" height="1" fill="#000"/>
<rect x="540" y="426" width="1" height="2" fill="#000"/>
<rect x="546" y="426" width="1" height="1" fill="#000"/>
<rect x="547" y="425" width="1" height="1" fill="#000"/>
<rect x="557" y="418" width="1" height="1" fill="#000"/>
<rect x="561" y="416" width="1" height="1" fill="#000"/>
<rect x="565" y="408" width="1" height="2" fill="#000"/>
<rect x="571" y="413" width="2" height="1" fill="#000"/>
<rect x="576" y="419" width="1" height="1" fill="#000"/>
<rect x="579" y="449" width="1" height="1" fill="#000"/>
<rect x="575" y="458" width="2" height="1" fill="#000"/>
<rect x="571" y="458" width="1" height="1" fill="#000"/>
<rect x="571" y="458" width="2" height="1" fill="#000"/>
<rect x="569" y="452" width="1" height="1" fill="#000"/>
<rect x="567" y="450" width="1" height="1" fill="#000"/>
<rect x="562" y="453" width="1" height="1" fill="#000"/>
<rect x="561" y="457" width="2" height="1" fill="#000"/>
<rect x="560" y="475" width="1" height="1" fill="#000"/>
<rect x="557" y="473" width="1" height="2" fill="#000"/>
<rect x="547" y="467" width="2" height="2" fill="#000"/>
<rect x="544" y="465" width="2" height="1" fill="#000"/>
<rect x="541" y="463" width="1" height="2" fill="#000"/>
<rect x="542" y="463" width="1" height="2" fill="#000"/>
<rect x="539" y="460" width="1" height="2" fill="#000"/>
<rect x="536" y="448" width="2" height="2" fill="#000"/>
<rect x="537" y="447" width="1" height="1" fill="#000"/>
<rect x="538" y="447" width="1" height="1" fill="#000"/>
<rect x="539" y="445" width="1" height="2" fill="#000"/>
<rect x="537" y="442" width="2" height="1" fill="#000"/>
<rect x="530" y="438" width="1" height="1" fill="#000"/>
<rect x="524" y="442" width="2" height="1" fill="#000"/>
<rect x="513" y="441" width="1" height="1" fill="#000"/>
<rect x="513" y="441" width="1" height="2" fill="#000"/>
<rect x="513" y="439" width="2" height="2" fill="#000"/>
<rect x="509" y="446" width="1" height="1" fill="#000"/>
<rect x="508" y="444" width="2" height="2" fill="#000"/>
<rect x="508" y="450" width="1" height="2" fill="#000"/>
<rect x="505" y="452" width="1" height="2" fill="#000"/>
<rect x="504" y="40" width="1" height="2" fill="#000"/>
<rect x="501" y="42" width="2" height="1" fill="#000"/>
<rect x="502" y="43" width="2" height="3" fill="#000"/>
<rect x="501" y="49" width="2" height="3" fill="#000"/>
<rect x="499" y="45" width="3" height="1" fill="#000"/>
<rect x="497" y="47" width="2" height="1" fill="#000"/>
<rect x="496" y="52" width="1" height="2" fill="#000"/>
<rect x="496" y="49" width="3" height="2" fill="#000"/>
<rect x="496" y="56" width="3" height="2" fill="#000"/>
<rect x="495" y="54" width="1" height="1" fill="#000"/>
<rect x="496" y="59" width="3" height="1" fill="#000"/>
<rect x="497" y="57" width="3" height="3" fill="#000"/>
<rect x="497" y="57" width="4" height="1" fill="#000"/>
<rect x="495" y="68" width="3" height="1" fill="#000"/>
<rect x="495" y="64" width="1" height="3" fill="#000"/>
<rect x="492" y="70" width="1" height="1" fill="#000"/>
<rect x="494" y="75" width="3" height="2" fill="#000"/>
<rect x="494" y="74" width="3" height="3" fill="#000"/>
<rect x="494" y="73" width="3" height="1" fill="#000"/>
<rect x="491" y="77" width="3" height="3" fill="#000"/>
<rect x="488" y="79" width="3" height="3" fill="#000"/>
<rect x="485" y="80" width="3" height="3" fill="#000"/>
<rect x="482" y="81" width="4" height="1" fill="#000"/>
<rect x="480" y="84" width="1" height="2" fill="#000"/>
<rect x="484" y="83" width="3" height="3" fill="#000"/>
<rect x="483" y="85" width="3" height="4" fill="#000"/>
<rect x="481" y="87" width="3" height="2" fill="#000"/>
<rect x="477" y="92" width="1" height="2" fill="#000"/>
<rect x="481" y="88" width="2" height="2" fill="#000"/>
<rect x="478" y="87" width="2" height="3" fill="#000"/>
<rect x="479" y="86" width="3" height="2" fill="#000"/>
<rect x="472" y="94" width="3" height="1" fill="#000"/>
<rect x="472" y="96" width="1" height="3" fill="#000"/>
<rect x="473" y="101" width="2" height="4" fill="#000"/>
<rect x="469" y="100" width="2" height="1" fill="#000"/>
<rect x="463" y="104" width="3" height="1" fill="#000"/>
<rect x="468" y="102" width="3" height="2" fill="#000"/>
<rect x="464" y="106" width="3" height="1" fill="#000"/>
<rect x="463" y="103" width="3" height="3" fill="#000"/>
<rect x="464" y="106" width="3" height="2" fill="#000"/>
<rect x="461" y="108" width="3" height="3" fill="#000"/>
<rect x="465" y="105" width="3" height="3" fill="#000"/>
<rect x="462" y="104" width="4" height="3" fill="#000"/>
<rect x="464" y="112" width="1" height="2" fill="#000"/>
<rect x="463" y="113" width="2" height="2" fill="#000"/>
<rect x="460" y="124" width="3" height="1" fill="#000"/>
<rect x="462" y="121" width="3" height="2" fill="#000"/>
<rect x="463" y="121" width="1" height="3" fill="#000"/>
<rect x="456" y="124" width="1" height="2" fill="#000"/>
<rect x="459" y="126" width="1" height="2" fill="#000"/>
<rect x="457" y="123" width="2" height="2" fill="#000"/>
<rect x="455" y="132" width="2" height="3" fill="#000"/>
<rect x="451" y="135" width="2" height="2" fill="#000"/>
<rect x="450" y="136" width="2" height="1" fill="#000"/>
<rect x="442" y="139" width="3" height="2" fill="#000"/>
<rect x="442" y="140" width="1" height="1" fill="#000"/>
<rect x="444" y="141" width="2" height="3" fill="#000"/>
<rect x="441" y="143" width="4" height="3" fill="#000"/>
<rect x="438" y="146" width="2" height="2" fill="#000"/>
<rect x="438" y="146" width="2" height="2" fill="#000"/>
<rect x="431" y="149" width="2" height="2" fill="#000"/>
<rect x="433" y="150" width="1" height="3" fill="#000"/>
<rect x="429" y="157" width="2" height="3" fill="#000"/>
<rect x="419" y="164" width="2" height="1" fill="#000"/>
<rect x="420" y="164" width="1" height="1" fill="#000"/>
<rect x="422" y="162" width="4" height="3" fill="#000"/>
<rect x="417" y="162" width="3" height="2" fill="#000"/>
<rect x="418" y="162" width="1" height="1" fill="#000"/>
<rect x="416" y="168" width="1" height="3" fill="#000"/>
<rect x="417" y="166" width="2" height="2" fill="#000"/>
<rect x="418" y="166" width="1" height="3" fill="#000"/>
<ellipse cx="493.0" cy="237.0" rx="1.6" ry="1.4" fill="#c0c0c0" stroke="#000" stroke-width="1"/>
<ellipse cx="501.6" cy="233.4" rx="1.0" ry="1.0" fill="#c0c0c0" stroke="#000" stroke-width="1"/>
<ellipse cx="491.0" cy="245.4" rx="1.4" ry="1.0" fill="#c0c0c0" stroke="#000" stroke-width="1"/>
<ellipse cx="489.0" cy="469.0" rx="2.3" ry="1.4" fill="#c0c0c0" stroke="#000" stroke-width="1"/>
<ellipse cx="469.8" cy="482.4" rx="2.3" ry="1.4" fill="#c0c0c0" stroke="#000" stroke-width="1"/>
<ellipse cx="503.0" cy="459.3" rx="2.5" ry="1.9" fill="#c0c0c0" stroke="#000" stroke-width="1"/>
<ellipse cx="199.6" cy="550.4" rx="2.9" ry="1.4" fill="#c0c0c0" stroke="#000" stroke-width="1"/>
<ellipse cx="204.7" cy="553.5" rx="2.1" ry="1.6" fill="#c0c0c0" stroke="#000" stroke-width="1"/>
<ellipse cx="207.8" cy="558.6" rx="2.5" ry="1.9" fill="#c0c0c0" stroke="#000" stroke-width="1"/>
</g>
<g stroke="#000" stroke-width="1" shape-rendering="crispEdges">
<line x1="130.5" y1="38" x2="130.5" y2="43"/>
<line x1="130.5" y1="570" x2="130.5" y2="565"/>
<line x1="164.5" y1="38" x2="164.5" y2="43"/>
<line x1="164.5" y1="570" x2="164.5" y2="565"/>
<line x1="198.5" y1="38" x2="198.5" y2="43"/>
<line x1="198.5" y1="570" x2="198.5" y2="565"/>
<line x1="232.5" y1="38" x2="232.5" y2="43"/>
<line x1="232.5" y1="570" x2="232.5" y2="565"/>
<line x1="266.5" y1="38" x2="266.5" y2="43"/>
<line x1="266.5" y1="570" x2="266.5" y2="565"/>
<line x1="300.5" y1="38" x2="300.5" y2="43"/>
<line x1="300.5" y1="570" x2="300.5" y2="565"/>
<line x1="334.5" y1="38" x2="334.5" y2="43"/>
<line x1="334.5" y1="570" x2="334.5" y2="565"/>
<line x1="368.5" y1="38" x2="368.5" y2="43"/>
<line x1="368.5" y1="570" x2="368.5" y2="565"/>
<line x1="402.5" y1="38" x2="402.5" y2="43"/>
<line x1="402.5" y1="570" x2="402.5" y2="565"/>
<line x1="436.5" y1="38" x2="436.5" y2="43"/>
<line x1="436.5" y1="570" x2="436.5" y2="565"/>
<line x1="470.5" y1="38" x2="470.5" y2="43"/>
<line x1="470.5" y1="570" x2="470.5" y2="565"/>
<line x1="503.5" y1="38" x2="503.5" y2="43"/>
<line x1="503.5" y1="570" x2="503.5" y2="565"/>
<line x1="537.5" y1="38" x2="537.5" y2="43"/>
<line x1="537.5" y1="570" x2="537.5" y2="565"/>
<line x1="571.5" y1="38" x2="571.5" y2="43"/>
<line x1="571.5" y1="570" x2="571.5" y2="565"/>
<line x1="605.5" y1="38" x2="605.5" y2="43"/>
<line x1="605.5" y1="570" x2="605.5" y2="565"/>
<line x1="113" y1="537.5" x2="118" y2="537.5"/>
<line x1="637" y1="537.5" x2="632" y2="537.5"/>
<line x1="113" y1="503.5" x2="118" y2="503.5"/>
<line x1="637" y1="503.5" x2="632" y2="503.5"/>
<line x1="113" y1="469.5" x2="118" y2="469.5"/>
<line x1="637" y1="469.5" x2="632" y2="469.5"/>
<line x1="113" y1="435.5" x2="118" y2="435.5"/>
<line x1="637" y1="435.5" x2="632" y2="435.5"/>
<line x1="113" y1="401.5" x2="118" y2="401.5"/>
<line x1="637" y1="401.5" x2="632" y2="401.5"/>
<line x1="113" y1="366.5" x2="118" y2="366.5"/>
<line x1="637" y1="366.5" x2="632" y2="366.5"/>
<line x1="113" y1="331.5" x2="118" y2="331.5"/>
<line x1="637" y1="331.5" x2="632" y2="331.5"/>
<line x1="113" y1="296.5" x2="118" y2="296.5"/>
<line x1="637" y1="296.5" x2="632" y2="296.5"/>
<line x1="113" y1="261.5" x2="118" y2="261.5"/>
<line x1="637" y1="261.5" x2="632" y2="261.5"/>
<line x1="113" y1="225.5" x2="118" y2="225.5"/>
<line x1="637" y1="225.5" x2="632" y2="225.5"/>
<line x1="113" y1="189.5" x2="118" y2="189.5"/>
<line x1="637" y1="189.5" x2="632" y2="189.5"/>
<line x1="113" y1="152.5" x2="118" y2="152.5"/>
<line x1="637" y1="152.5" x2="632" y2="152.5"/>
<line x1="113" y1="114.5" x2="118" y2="114.5"/>
<line x1="637" y1="114.5" x2="632" y2="114.5"/>
<line x1="113" y1="76.5" x2="118" y2="76.5"/>
<line x1="637" y1="76.5" x2="632" y2="76.5"/>
</g>
<rect x="112" y="37" width="526" height="534" fill="none" stroke="#000" stroke-width="2" shape-rendering="crispEdges"/>
<rect x="255" y="629" width="242" height="12" fill="url(#cb)"/>
<text x="375.5" y="19.7" font-family="Liberation Sans, Arial, sans-serif" font-size="13" font-style="normal" text-anchor="middle" fill="#000074">Significant Wave Height with Wave Direction</text>
<text x="375.7" y="31.2" font-family="Liberation Sans, Arial, sans-serif" font-size="12" font-style="italic" text-anchor="middle" fill="#000074">Valid For May-25-2014 06:00 GMT</text>
<text x="133.8" y="587.6" font-family="Liberation Sans, Arial, sans-serif" font-size="11" font-style="italic" text-anchor="middle" fill="#000058">100 E</text>
<text x="218.2" y="587.6" font-family="Liberation Sans, Arial, sans-serif" font-size="11" font-style="italic" text-anchor="middle" fill="#000058">105 E</text>
<text x="302.7" y="587.6" font-family="Liberation Sans, Arial, sans-serif" font-size="11" font-style="italic" text-anchor="middle" fill="#000058">110 E</text>
<text x="387.2" y="587.6" font-family="Liberation Sans, Arial, sans-serif" font-size="11" font-style="italic" text-anchor="middle" fill="#000058">115 E</text>
<text x="471.6" y="587.6" font-family="Liberation Sans, Arial, sans-serif" font-size="11" font-style="italic" text-anchor="middle" fill="#000058">120 E</text>
<text x="556.0" y="587.6" font-family="Liberation Sans, Arial, sans-serif" font-size="11" font-style="italic" text-anchor="middle" fill="#000058">125 E</text>
<text x="640.5" y="587.6" font-family="Liberation Sans, Arial, sans-serif" font-size="11" font-style="italic" text-anchor="middle" fill="#000058">130 E</text>
<text x="645" y="42" font-family="Liberation Sans, Arial, sans-serif" font-size="11" font-style="italic" text-anchor="start" fill="#000058">30 N</text>
<text x="645" y="137.2" font-family="Liberation Sans, Arial, sans-serif" font-size="11" font-style="italic" text-anchor="start" fill="#000058">25 N</text>
<text x="645" y="229.2" font-family="Liberation Sans, Arial, sans-serif" font-size="11" font-style="italic" text-anchor="start" fill="#000058">20 N</text>
<text x="645" y="318.2" font-family="Liberation Sans, Arial, sans-serif" font-size="11" font-style="italic" text-anchor="start" fill="#000058">15 N</text>
<text x="645" y="404.2" font-family="Liberation Sans, Arial, sans-serif" font-size="11" font-style="italic" text-anchor="start" fill="#000058">10 N</text>
<text x="645" y="489.2" font-family="Liberation Sans, Arial, sans-serif" font-size="11" font-style="italic" text-anchor="start" fill="#000058">5 N</text>
<text x="645" y="573.6" font-family="Liberation Sans, Arial, sans-serif" font-size="11" font-style="italic" text-anchor="start" fill="#000058">0</text>
<text x="113.5" y="601.6" font-family="Liberation Sans, Arial, sans-serif" font-size="11" font-style="normal" text-anchor="start" fill="#000074">oceanweather inc.</text>
<text x="519" y="598.8" font-family="Liberation Sans, Arial, sans-serif" font-size="7.5" font-style="italic" text-anchor="start" fill="#000074">Plotted at May 24, 2014 21:27 GMT</text>
<text x="375.4" y="614.4" font-family="Liberation Sans, Arial, sans-serif" font-size="9.5" font-style="normal" text-anchor="middle" fill="#000074">Significant Wave Height (Meters)</text>
<text x="375.4" y="660.6" font-family="Liberation Sans, Arial, sans-serif" font-size="9.5" font-style="normal" text-anchor="middle" fill="#000074">Significant Wave Height (Feet)</text>
<text x="255.8" y="625.9" font-family="Liberation Sans, Arial, sans-serif" font-size="9.5" font-style="normal" text-anchor="middle" fill="#000074">0</text>
<text x="275.9" y="625.9" font-family="Liberation Sans, Arial, sans-serif" font-size="9.5" font-style="normal" text-anchor="middle" fill="#000074">1</text>
<text x="296.0" y="625.9" font-family="Liberation Sans, Arial, sans-serif" font-size="9.5" font-style="normal" text-anchor="middle" fill="#000074">2</text>
<text x="316.0" y="625.9" font-family="Liberation Sans, Arial, sans-serif" font-size="9.5" font-style="normal" text-anchor="middle" fill="#000074">3</text>
<text x="336.1" y="625.9" font-family="Liberation Sans, Arial, sans-serif" font-size="9.5" font-style="normal" text-anchor="middle" fill="#000074">4</text>
<text x="356.2" y="625.9" font-family="Liberation Sans, Arial, sans-serif" font-size="9.5" font-style="normal" text-anchor="middle" fill="#000074">5</text>
<text x="376.3" y="625.9" font-family="Liberation Sans, Arial, sans-serif" font-size="9.5" font-style="normal" text-anchor="middle" fill="#000074">6</text>
<text x="396.4" y="625.9" font-family="Liberation Sans, Arial, sans-serif" font-size="9.5" font-style="normal" text-anchor="middle" fill="#000074">7</text>
<text x="416.4" y="625.9" font-family="Liberation Sans, Arial, sans-serif" font-size="9.5" font-style="normal" text-anchor="middle" fill="#000074">8</text>
<text x="436.5" y="625.9" font-family="Liberation Sans, Arial, sans-serif" font-size="9.5" font-style="normal" text-anchor="middle" fill="#000074">9</text>
<text x="456.6" y="625.9" font-family="Liberation Sans, Arial, sans-serif" font-size="9.5" font-style="normal" text-anchor="middle" fill="#000074">10</text>
<text x="476.7" y="625.9" font-family="Liberation Sans, Arial, sans-serif" font-size="9.5" font-style="normal" text-anchor="middle" fill="#000074">11</text>
<text x="496.8" y="625.9" font-family="Liberation Sans, Arial, sans-serif" font-size="9.5" font-style="normal" text-anchor="middle" fill="#000074">12</text>
<text x="255.8" y="650.0" font-family="Liberation Sans, Arial, sans-serif" font-size="9.5" font-style="normal" text-anchor="middle" fill="#000074">0</text>
<text x="285.9" y="650.0" font-family="Liberation Sans, Arial, sans-serif" font-size="9.5" font-style="normal" text-anchor="middle" fill="#000074">5</text>
<text x="316.0" y="650.0" font-family="Liberation Sans, Arial, sans-serif" font-size="9.5" font-style="normal" text-anchor="middle" fill="#000074">10</text>
<text x="346.2" y="650.0" font-family="Liberation Sans, Arial, sans-serif" font-size="9.5" font-style="normal" text-anchor="middle" fill="#000074">15</text>
<text x="376.3" y="650.0" font-family="Liberation Sans, Arial, sans-serif" font-size="9.5" font-style="normal" text-anchor="middle" fill="#000074">20</text>
<text x="406.4" y="650.0" font-family="Liberation Sans, Arial, sans-serif" font-size="9.5" font-style="normal" text-anchor="middle" fill="#000074">25</text>
<text x="436.5" y="650.0" font-family="Liberation Sans, Arial, sans-serif" font-size="9.5" font-style="normal" text-anchor="middle" fill="#000074">30</text>
<text x="466.6" y="650.0" font-family="Liberation Sans, Arial, sans-serif" font-size="9.5" font-style="normal" text-anchor="middle" fill="#000074">35</text>
<text x="496.8" y="650.0" font-family="Liberation Sans, Arial, sans-serif" font-size="9.5" font-style="normal" text-anchor="middle" fill="#000074">40</text>
</svg>
</body></html>
